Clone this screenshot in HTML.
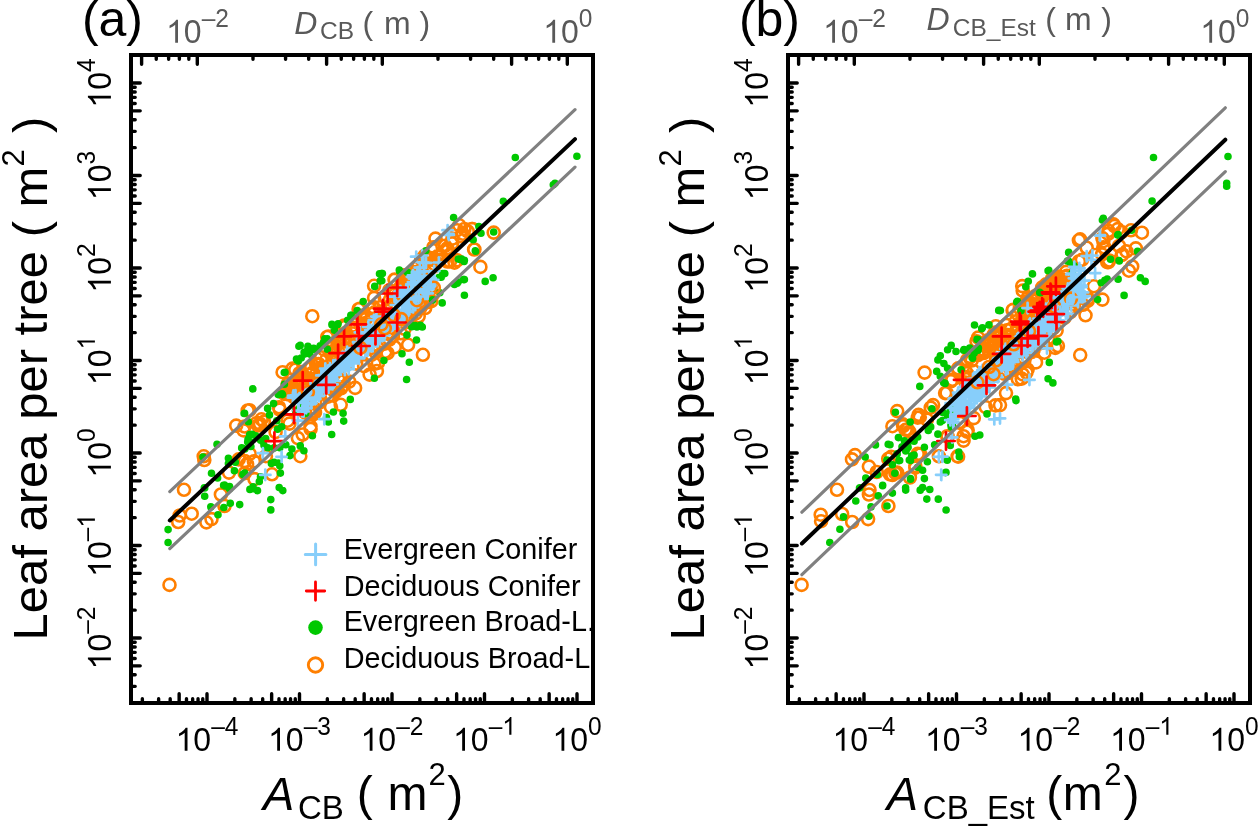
<!DOCTYPE html>
<html><head><meta charset="utf-8"><style>
html,body{margin:0;padding:0;background:#fff;width:1258px;height:829px;overflow:hidden}
svg{display:block;will-change:transform}
text{font-family:"Liberation Sans", sans-serif}
svg{-webkit-font-smoothing:antialiased}
.t{will-change:transform}
</style></head><body>
<svg width="1258" height="829" viewBox="0 0 1258 829">
<rect width="1258" height="829" fill="#fff"/>
<defs><clipPath id="clipA"><rect x="133" y="57" width="458" height="644"/></clipPath><clipPath id="clipB"><rect x="790" y="57" width="458" height="644"/></clipPath></defs>
<text x="81.90" y="36.00" font-size="50" fill="#000" text-anchor="start">(a)</text>
<path transform="translate(166.08,42.70) scale(0.01562,-0.01562)" d="M763 0L583 0L583 1147Q518 1085 412.5 1023Q307 961 223 930L223 1104Q374 1175 487 1276Q600 1377 647 1472L763 1472Z" fill="#595959"/>
<text transform="translate(183.87,42.70) scale(1,1.04)" font-size="32" fill="#595959" text-anchor="start">0</text>
<text transform="translate(201.67,26.70) scale(1,1.04)" font-size="24.5" fill="#595959" text-anchor="start">–2</text>
<path transform="translate(543.19,42.70) scale(0.01562,-0.01562)" d="M763 0L583 0L583 1147Q518 1085 412.5 1023Q307 961 223 930L223 1104Q374 1175 487 1276Q600 1377 647 1472L763 1472Z" fill="#595959"/>
<text transform="translate(560.99,42.70) scale(1,1.04)" font-size="32" fill="#595959" text-anchor="start">0</text>
<text transform="translate(578.78,26.70) scale(1,1.04)" font-size="24.5" fill="#595959" text-anchor="start">0</text>
<text x="294.32" y="33.70" font-size="32" fill="#595959" font-style="italic" text-anchor="start">D</text>
<text x="320.06" y="39.40" font-size="24.5" fill="#595959" text-anchor="start">CB</text>
<text x="362.62" y="33.70" font-size="32" fill="#595959" text-anchor="start">(</text>
<text x="384.07" y="33.70" font-size="32" fill="#595959" text-anchor="start">m</text>
<text x="419.53" y="33.70" font-size="32" fill="#595959" text-anchor="start">)</text>
<g transform="translate(110.90,669.42) rotate(-90)">
<path transform="translate(0.00,0.00) scale(0.01562,-0.01562)" d="M763 0L583 0L583 1147Q518 1085 412.5 1023Q307 961 223 930L223 1104Q374 1175 487 1276Q600 1377 647 1472L763 1472Z" fill="#000"/>
<text transform="translate(17.80,0.00) scale(1,1.04)" font-size="32" fill="#000" text-anchor="start">0</text>
<text transform="translate(35.59,-16.00) scale(1,1.04)" font-size="24.5" fill="#000" text-anchor="start">–2</text>
</g>
<g transform="translate(110.90,576.92) rotate(-90)">
<path transform="translate(0.00,0.00) scale(0.01562,-0.01562)" d="M763 0L583 0L583 1147Q518 1085 412.5 1023Q307 961 223 930L223 1104Q374 1175 487 1276Q600 1377 647 1472L763 1472Z" fill="#000"/>
<text transform="translate(17.80,0.00) scale(1,1.04)" font-size="32" fill="#000" text-anchor="start">0</text>
<text transform="translate(35.59,-16.00) scale(1,1.04)" font-size="24.5" fill="#000" text-anchor="start">–</text>
<path transform="translate(49.22,-16.00) scale(0.01196,-0.01196)" d="M763 0L583 0L583 1147Q518 1085 412.5 1023Q307 961 223 930L223 1104Q374 1175 487 1276Q600 1377 647 1472L763 1472Z" fill="#000"/>
</g>
<g transform="translate(110.90,477.61) rotate(-90)">
<path transform="translate(0.00,0.00) scale(0.01562,-0.01562)" d="M763 0L583 0L583 1147Q518 1085 412.5 1023Q307 961 223 930L223 1104Q374 1175 487 1276Q600 1377 647 1472L763 1472Z" fill="#000"/>
<text transform="translate(17.80,0.00) scale(1,1.04)" font-size="32" fill="#000" text-anchor="start">0</text>
<text transform="translate(35.59,-16.00) scale(1,1.04)" font-size="24.5" fill="#000" text-anchor="start">0</text>
</g>
<g transform="translate(110.90,385.11) rotate(-90)">
<path transform="translate(0.00,0.00) scale(0.01562,-0.01562)" d="M763 0L583 0L583 1147Q518 1085 412.5 1023Q307 961 223 930L223 1104Q374 1175 487 1276Q600 1377 647 1472L763 1472Z" fill="#000"/>
<text transform="translate(17.80,0.00) scale(1,1.04)" font-size="32" fill="#000" text-anchor="start">0</text>
<path transform="translate(35.59,-16.00) scale(0.01196,-0.01196)" d="M763 0L583 0L583 1147Q518 1085 412.5 1023Q307 961 223 930L223 1104Q374 1175 487 1276Q600 1377 647 1472L763 1472Z" fill="#000"/>
</g>
<g transform="translate(110.90,292.61) rotate(-90)">
<path transform="translate(0.00,0.00) scale(0.01562,-0.01562)" d="M763 0L583 0L583 1147Q518 1085 412.5 1023Q307 961 223 930L223 1104Q374 1175 487 1276Q600 1377 647 1472L763 1472Z" fill="#000"/>
<text transform="translate(17.80,0.00) scale(1,1.04)" font-size="32" fill="#000" text-anchor="start">0</text>
<text transform="translate(35.59,-16.00) scale(1,1.04)" font-size="24.5" fill="#000" text-anchor="start">2</text>
</g>
<g transform="translate(110.90,200.11) rotate(-90)">
<path transform="translate(0.00,0.00) scale(0.01562,-0.01562)" d="M763 0L583 0L583 1147Q518 1085 412.5 1023Q307 961 223 930L223 1104Q374 1175 487 1276Q600 1377 647 1472L763 1472Z" fill="#000"/>
<text transform="translate(17.80,0.00) scale(1,1.04)" font-size="32" fill="#000" text-anchor="start">0</text>
<text transform="translate(35.59,-16.00) scale(1,1.04)" font-size="24.5" fill="#000" text-anchor="start">3</text>
</g>
<g transform="translate(110.90,107.61) rotate(-90)">
<path transform="translate(0.00,0.00) scale(0.01562,-0.01562)" d="M763 0L583 0L583 1147Q518 1085 412.5 1023Q307 961 223 930L223 1104Q374 1175 487 1276Q600 1377 647 1472L763 1472Z" fill="#000"/>
<text transform="translate(17.80,0.00) scale(1,1.04)" font-size="32" fill="#000" text-anchor="start">0</text>
<text transform="translate(35.59,-16.00) scale(1,1.04)" font-size="24.5" fill="#000" text-anchor="start">4</text>
</g>
<path transform="translate(175.58,750.70) scale(0.01562,-0.01562)" d="M763 0L583 0L583 1147Q518 1085 412.5 1023Q307 961 223 930L223 1104Q374 1175 487 1276Q600 1377 647 1472L763 1472Z" fill="#000"/>
<text transform="translate(193.37,750.70) scale(1,1.04)" font-size="32" fill="#000" text-anchor="start">0</text>
<text transform="translate(211.17,734.70) scale(1,1.04)" font-size="24.5" fill="#000" text-anchor="start">–4</text>
<path transform="translate(268.08,750.70) scale(0.01562,-0.01562)" d="M763 0L583 0L583 1147Q518 1085 412.5 1023Q307 961 223 930L223 1104Q374 1175 487 1276Q600 1377 647 1472L763 1472Z" fill="#000"/>
<text transform="translate(285.87,750.70) scale(1,1.04)" font-size="32" fill="#000" text-anchor="start">0</text>
<text transform="translate(303.67,734.70) scale(1,1.04)" font-size="24.5" fill="#000" text-anchor="start">–3</text>
<path transform="translate(360.58,750.70) scale(0.01562,-0.01562)" d="M763 0L583 0L583 1147Q518 1085 412.5 1023Q307 961 223 930L223 1104Q374 1175 487 1276Q600 1377 647 1472L763 1472Z" fill="#000"/>
<text transform="translate(378.37,750.70) scale(1,1.04)" font-size="32" fill="#000" text-anchor="start">0</text>
<text transform="translate(396.17,734.70) scale(1,1.04)" font-size="24.5" fill="#000" text-anchor="start">–2</text>
<path transform="translate(453.08,750.70) scale(0.01562,-0.01562)" d="M763 0L583 0L583 1147Q518 1085 412.5 1023Q307 961 223 930L223 1104Q374 1175 487 1276Q600 1377 647 1472L763 1472Z" fill="#000"/>
<text transform="translate(470.87,750.70) scale(1,1.04)" font-size="32" fill="#000" text-anchor="start">0</text>
<text transform="translate(488.67,734.70) scale(1,1.04)" font-size="24.5" fill="#000" text-anchor="start">–</text>
<path transform="translate(502.30,734.70) scale(0.01196,-0.01196)" d="M763 0L583 0L583 1147Q518 1085 412.5 1023Q307 961 223 930L223 1104Q374 1175 487 1276Q600 1377 647 1472L763 1472Z" fill="#000"/>
<path transform="translate(552.39,750.70) scale(0.01562,-0.01562)" d="M763 0L583 0L583 1147Q518 1085 412.5 1023Q307 961 223 930L223 1104Q374 1175 487 1276Q600 1377 647 1472L763 1472Z" fill="#000"/>
<text transform="translate(570.19,750.70) scale(1,1.04)" font-size="32" fill="#000" text-anchor="start">0</text>
<text transform="translate(587.98,734.70) scale(1,1.04)" font-size="24.5" fill="#000" text-anchor="start">0</text>
<g transform="translate(47.30,640.50) rotate(-90)">
<text x="0.00" y="0.00" font-size="49" fill="#000" text-anchor="start">Leaf area per tree ( m</text>
<text x="473.90" y="-23.80" font-size="31" fill="#000" text-anchor="start">2</text>
</g>
<g transform="translate(47.30,132.99) rotate(-90)">
<text x="0.00" y="0.00" font-size="49" fill="#000" text-anchor="start">)</text>
</g>
<text x="262.92" y="810.00" font-size="47" fill="#000" font-style="italic" text-anchor="start">A</text>
<text x="298.02" y="818.60" font-size="33" fill="#000" text-anchor="start">CB</text>
<text x="356.72" y="810.00" font-size="48" fill="#000" text-anchor="start">(</text>
<text x="387.61" y="810.00" font-size="48" fill="#000" text-anchor="start">m</text>
<text x="428.44" y="784.70" font-size="31" fill="#000" text-anchor="start">2</text>
<text x="447.19" y="810.00" font-size="48" fill="#000" text-anchor="start">)</text>
<text x="738.90" y="36.00" font-size="50" fill="#000" text-anchor="start">(b)</text>
<path transform="translate(823.08,42.70) scale(0.01562,-0.01562)" d="M763 0L583 0L583 1147Q518 1085 412.5 1023Q307 961 223 930L223 1104Q374 1175 487 1276Q600 1377 647 1472L763 1472Z" fill="#595959"/>
<text transform="translate(840.87,42.70) scale(1,1.04)" font-size="32" fill="#595959" text-anchor="start">0</text>
<text transform="translate(858.67,26.70) scale(1,1.04)" font-size="24.5" fill="#595959" text-anchor="start">–2</text>
<path transform="translate(1200.19,42.70) scale(0.01562,-0.01562)" d="M763 0L583 0L583 1147Q518 1085 412.5 1023Q307 961 223 930L223 1104Q374 1175 487 1276Q600 1377 647 1472L763 1472Z" fill="#595959"/>
<text transform="translate(1217.99,42.70) scale(1,1.04)" font-size="32" fill="#595959" text-anchor="start">0</text>
<text transform="translate(1235.78,26.70) scale(1,1.04)" font-size="24.5" fill="#595959" text-anchor="start">0</text>
<text x="926.52" y="29.60" font-size="32" fill="#595959" font-style="italic" text-anchor="start">D</text>
<text x="952.76" y="35.70" font-size="24.5" fill="#595959" text-anchor="start">CB_Est</text>
<text x="1045.22" y="29.70" font-size="32" fill="#595959" text-anchor="start">(</text>
<text x="1064.88" y="29.70" font-size="32" fill="#595959" text-anchor="start">m</text>
<text x="1101.33" y="29.70" font-size="32" fill="#595959" text-anchor="start">)</text>
<g transform="translate(767.90,669.42) rotate(-90)">
<path transform="translate(0.00,0.00) scale(0.01562,-0.01562)" d="M763 0L583 0L583 1147Q518 1085 412.5 1023Q307 961 223 930L223 1104Q374 1175 487 1276Q600 1377 647 1472L763 1472Z" fill="#000"/>
<text transform="translate(17.80,0.00) scale(1,1.04)" font-size="32" fill="#000" text-anchor="start">0</text>
<text transform="translate(35.59,-16.00) scale(1,1.04)" font-size="24.5" fill="#000" text-anchor="start">–2</text>
</g>
<g transform="translate(767.90,576.92) rotate(-90)">
<path transform="translate(0.00,0.00) scale(0.01562,-0.01562)" d="M763 0L583 0L583 1147Q518 1085 412.5 1023Q307 961 223 930L223 1104Q374 1175 487 1276Q600 1377 647 1472L763 1472Z" fill="#000"/>
<text transform="translate(17.80,0.00) scale(1,1.04)" font-size="32" fill="#000" text-anchor="start">0</text>
<text transform="translate(35.59,-16.00) scale(1,1.04)" font-size="24.5" fill="#000" text-anchor="start">–</text>
<path transform="translate(49.22,-16.00) scale(0.01196,-0.01196)" d="M763 0L583 0L583 1147Q518 1085 412.5 1023Q307 961 223 930L223 1104Q374 1175 487 1276Q600 1377 647 1472L763 1472Z" fill="#000"/>
</g>
<g transform="translate(767.90,477.61) rotate(-90)">
<path transform="translate(0.00,0.00) scale(0.01562,-0.01562)" d="M763 0L583 0L583 1147Q518 1085 412.5 1023Q307 961 223 930L223 1104Q374 1175 487 1276Q600 1377 647 1472L763 1472Z" fill="#000"/>
<text transform="translate(17.80,0.00) scale(1,1.04)" font-size="32" fill="#000" text-anchor="start">0</text>
<text transform="translate(35.59,-16.00) scale(1,1.04)" font-size="24.5" fill="#000" text-anchor="start">0</text>
</g>
<g transform="translate(767.90,385.11) rotate(-90)">
<path transform="translate(0.00,0.00) scale(0.01562,-0.01562)" d="M763 0L583 0L583 1147Q518 1085 412.5 1023Q307 961 223 930L223 1104Q374 1175 487 1276Q600 1377 647 1472L763 1472Z" fill="#000"/>
<text transform="translate(17.80,0.00) scale(1,1.04)" font-size="32" fill="#000" text-anchor="start">0</text>
<path transform="translate(35.59,-16.00) scale(0.01196,-0.01196)" d="M763 0L583 0L583 1147Q518 1085 412.5 1023Q307 961 223 930L223 1104Q374 1175 487 1276Q600 1377 647 1472L763 1472Z" fill="#000"/>
</g>
<g transform="translate(767.90,292.61) rotate(-90)">
<path transform="translate(0.00,0.00) scale(0.01562,-0.01562)" d="M763 0L583 0L583 1147Q518 1085 412.5 1023Q307 961 223 930L223 1104Q374 1175 487 1276Q600 1377 647 1472L763 1472Z" fill="#000"/>
<text transform="translate(17.80,0.00) scale(1,1.04)" font-size="32" fill="#000" text-anchor="start">0</text>
<text transform="translate(35.59,-16.00) scale(1,1.04)" font-size="24.5" fill="#000" text-anchor="start">2</text>
</g>
<g transform="translate(767.90,200.11) rotate(-90)">
<path transform="translate(0.00,0.00) scale(0.01562,-0.01562)" d="M763 0L583 0L583 1147Q518 1085 412.5 1023Q307 961 223 930L223 1104Q374 1175 487 1276Q600 1377 647 1472L763 1472Z" fill="#000"/>
<text transform="translate(17.80,0.00) scale(1,1.04)" font-size="32" fill="#000" text-anchor="start">0</text>
<text transform="translate(35.59,-16.00) scale(1,1.04)" font-size="24.5" fill="#000" text-anchor="start">3</text>
</g>
<g transform="translate(767.90,107.61) rotate(-90)">
<path transform="translate(0.00,0.00) scale(0.01562,-0.01562)" d="M763 0L583 0L583 1147Q518 1085 412.5 1023Q307 961 223 930L223 1104Q374 1175 487 1276Q600 1377 647 1472L763 1472Z" fill="#000"/>
<text transform="translate(17.80,0.00) scale(1,1.04)" font-size="32" fill="#000" text-anchor="start">0</text>
<text transform="translate(35.59,-16.00) scale(1,1.04)" font-size="24.5" fill="#000" text-anchor="start">4</text>
</g>
<path transform="translate(832.58,750.70) scale(0.01562,-0.01562)" d="M763 0L583 0L583 1147Q518 1085 412.5 1023Q307 961 223 930L223 1104Q374 1175 487 1276Q600 1377 647 1472L763 1472Z" fill="#000"/>
<text transform="translate(850.37,750.70) scale(1,1.04)" font-size="32" fill="#000" text-anchor="start">0</text>
<text transform="translate(868.17,734.70) scale(1,1.04)" font-size="24.5" fill="#000" text-anchor="start">–4</text>
<path transform="translate(925.08,750.70) scale(0.01562,-0.01562)" d="M763 0L583 0L583 1147Q518 1085 412.5 1023Q307 961 223 930L223 1104Q374 1175 487 1276Q600 1377 647 1472L763 1472Z" fill="#000"/>
<text transform="translate(942.87,750.70) scale(1,1.04)" font-size="32" fill="#000" text-anchor="start">0</text>
<text transform="translate(960.67,734.70) scale(1,1.04)" font-size="24.5" fill="#000" text-anchor="start">–3</text>
<path transform="translate(1017.58,750.70) scale(0.01562,-0.01562)" d="M763 0L583 0L583 1147Q518 1085 412.5 1023Q307 961 223 930L223 1104Q374 1175 487 1276Q600 1377 647 1472L763 1472Z" fill="#000"/>
<text transform="translate(1035.37,750.70) scale(1,1.04)" font-size="32" fill="#000" text-anchor="start">0</text>
<text transform="translate(1053.17,734.70) scale(1,1.04)" font-size="24.5" fill="#000" text-anchor="start">–2</text>
<path transform="translate(1110.08,750.70) scale(0.01562,-0.01562)" d="M763 0L583 0L583 1147Q518 1085 412.5 1023Q307 961 223 930L223 1104Q374 1175 487 1276Q600 1377 647 1472L763 1472Z" fill="#000"/>
<text transform="translate(1127.87,750.70) scale(1,1.04)" font-size="32" fill="#000" text-anchor="start">0</text>
<text transform="translate(1145.67,734.70) scale(1,1.04)" font-size="24.5" fill="#000" text-anchor="start">–</text>
<path transform="translate(1159.30,734.70) scale(0.01196,-0.01196)" d="M763 0L583 0L583 1147Q518 1085 412.5 1023Q307 961 223 930L223 1104Q374 1175 487 1276Q600 1377 647 1472L763 1472Z" fill="#000"/>
<path transform="translate(1209.39,750.70) scale(0.01562,-0.01562)" d="M763 0L583 0L583 1147Q518 1085 412.5 1023Q307 961 223 930L223 1104Q374 1175 487 1276Q600 1377 647 1472L763 1472Z" fill="#000"/>
<text transform="translate(1227.19,750.70) scale(1,1.04)" font-size="32" fill="#000" text-anchor="start">0</text>
<text transform="translate(1244.98,734.70) scale(1,1.04)" font-size="24.5" fill="#000" text-anchor="start">0</text>
<g transform="translate(704.30,640.50) rotate(-90)">
<text x="0.00" y="0.00" font-size="49" fill="#000" text-anchor="start">Leaf area per tree ( m</text>
<text x="473.90" y="-23.80" font-size="31" fill="#000" text-anchor="start">2</text>
</g>
<g transform="translate(704.30,132.99) rotate(-90)">
<text x="0.00" y="0.00" font-size="49" fill="#000" text-anchor="start">)</text>
</g>
<text x="886.82" y="810.00" font-size="47" fill="#000" font-style="italic" text-anchor="start">A</text>
<text x="922.82" y="818.60" font-size="33" fill="#000" text-anchor="start">CB_Est</text>
<text x="1046.22" y="810.00" font-size="48" fill="#000" text-anchor="start">(</text>
<text x="1062.71" y="810.00" font-size="48" fill="#000" text-anchor="start">m</text>
<text x="1104.34" y="784.70" font-size="31" fill="#000" text-anchor="start">2</text>
<text x="1123.59" y="810.00" font-size="48" fill="#000" text-anchor="start">)</text>
<g clip-path="url(#clipA)">
<path d="M299.8 385.4a6 6 0 1 0 12 0a6 6 0 1 0 -12 0M397.4 280.8a6 6 0 1 0 12 0a6 6 0 1 0 -12 0M355.8 324.1a6 6 0 1 0 12 0a6 6 0 1 0 -12 0M380.0 308.8a6 6 0 1 0 12 0a6 6 0 1 0 -12 0M293.5 373.2a6 6 0 1 0 12 0a6 6 0 1 0 -12 0M408.5 274.2a6 6 0 1 0 12 0a6 6 0 1 0 -12 0M397.2 275.4a6 6 0 1 0 12 0a6 6 0 1 0 -12 0M348.0 337.3a6 6 0 1 0 12 0a6 6 0 1 0 -12 0M314.5 373.8a6 6 0 1 0 12 0a6 6 0 1 0 -12 0M418.7 255.8a6 6 0 1 0 12 0a6 6 0 1 0 -12 0M282.9 394.5a6 6 0 1 0 12 0a6 6 0 1 0 -12 0M424.6 258.0a6 6 0 1 0 12 0a6 6 0 1 0 -12 0M312.6 364.0a6 6 0 1 0 12 0a6 6 0 1 0 -12 0M283.5 386.9a6 6 0 1 0 12 0a6 6 0 1 0 -12 0M346.9 333.5a6 6 0 1 0 12 0a6 6 0 1 0 -12 0M315.1 357.4a6 6 0 1 0 12 0a6 6 0 1 0 -12 0M312.9 364.6a6 6 0 1 0 12 0a6 6 0 1 0 -12 0M323.9 344.6a6 6 0 1 0 12 0a6 6 0 1 0 -12 0M408.8 276.7a6 6 0 1 0 12 0a6 6 0 1 0 -12 0M378.6 296.9a6 6 0 1 0 12 0a6 6 0 1 0 -12 0M432.8 260.8a6 6 0 1 0 12 0a6 6 0 1 0 -12 0M297.7 376.0a6 6 0 1 0 12 0a6 6 0 1 0 -12 0M390.8 297.0a6 6 0 1 0 12 0a6 6 0 1 0 -12 0M424.1 259.3a6 6 0 1 0 12 0a6 6 0 1 0 -12 0M407.7 280.3a6 6 0 1 0 12 0a6 6 0 1 0 -12 0M326.0 355.1a6 6 0 1 0 12 0a6 6 0 1 0 -12 0M415.8 276.5a6 6 0 1 0 12 0a6 6 0 1 0 -12 0M357.3 325.7a6 6 0 1 0 12 0a6 6 0 1 0 -12 0M284.4 386.6a6 6 0 1 0 12 0a6 6 0 1 0 -12 0M402.6 279.4a6 6 0 1 0 12 0a6 6 0 1 0 -12 0M305.8 373.2a6 6 0 1 0 12 0a6 6 0 1 0 -12 0M388.0 298.8a6 6 0 1 0 12 0a6 6 0 1 0 -12 0M337.1 341.4a6 6 0 1 0 12 0a6 6 0 1 0 -12 0M357.8 329.4a6 6 0 1 0 12 0a6 6 0 1 0 -12 0M359.7 319.1a6 6 0 1 0 12 0a6 6 0 1 0 -12 0M354.9 315.7a6 6 0 1 0 12 0a6 6 0 1 0 -12 0M285.7 395.4a6 6 0 1 0 12 0a6 6 0 1 0 -12 0M431.4 256.3a6 6 0 1 0 12 0a6 6 0 1 0 -12 0M340.0 332.8a6 6 0 1 0 12 0a6 6 0 1 0 -12 0M356.8 334.8a6 6 0 1 0 12 0a6 6 0 1 0 -12 0M398.4 286.1a6 6 0 1 0 12 0a6 6 0 1 0 -12 0M412.3 266.2a6 6 0 1 0 12 0a6 6 0 1 0 -12 0M358.6 332.5a6 6 0 1 0 12 0a6 6 0 1 0 -12 0M368.6 312.3a6 6 0 1 0 12 0a6 6 0 1 0 -12 0M320.7 359.1a6 6 0 1 0 12 0a6 6 0 1 0 -12 0M427.4 247.2a6 6 0 1 0 12 0a6 6 0 1 0 -12 0M400.5 290.3a6 6 0 1 0 12 0a6 6 0 1 0 -12 0M416.4 273.6a6 6 0 1 0 12 0a6 6 0 1 0 -12 0M404.4 280.0a6 6 0 1 0 12 0a6 6 0 1 0 -12 0M366.0 314.0a6 6 0 1 0 12 0a6 6 0 1 0 -12 0M287.7 397.2a6 6 0 1 0 12 0a6 6 0 1 0 -12 0M367.3 307.7a6 6 0 1 0 12 0a6 6 0 1 0 -12 0M357.2 323.5a6 6 0 1 0 12 0a6 6 0 1 0 -12 0M334.3 342.0a6 6 0 1 0 12 0a6 6 0 1 0 -12 0M362.5 321.7a6 6 0 1 0 12 0a6 6 0 1 0 -12 0M373.9 307.3a6 6 0 1 0 12 0a6 6 0 1 0 -12 0M283.3 387.2a6 6 0 1 0 12 0a6 6 0 1 0 -12 0M306.5 373.3a6 6 0 1 0 12 0a6 6 0 1 0 -12 0M412.5 278.6a6 6 0 1 0 12 0a6 6 0 1 0 -12 0M402.6 288.3a6 6 0 1 0 12 0a6 6 0 1 0 -12 0M318.6 367.6a6 6 0 1 0 12 0a6 6 0 1 0 -12 0M383.3 290.2a6 6 0 1 0 12 0a6 6 0 1 0 -12 0M281.6 384.2a6 6 0 1 0 12 0a6 6 0 1 0 -12 0M396.1 281.8a6 6 0 1 0 12 0a6 6 0 1 0 -12 0M296.0 384.1a6 6 0 1 0 12 0a6 6 0 1 0 -12 0M332.4 337.7a6 6 0 1 0 12 0a6 6 0 1 0 -12 0M303.7 374.6a6 6 0 1 0 12 0a6 6 0 1 0 -12 0M305.1 367.8a6 6 0 1 0 12 0a6 6 0 1 0 -12 0M389.3 292.8a6 6 0 1 0 12 0a6 6 0 1 0 -12 0M328.9 349.8a6 6 0 1 0 12 0a6 6 0 1 0 -12 0M282.7 391.3a6 6 0 1 0 12 0a6 6 0 1 0 -12 0M344.2 329.2a6 6 0 1 0 12 0a6 6 0 1 0 -12 0M295.9 390.2a6 6 0 1 0 12 0a6 6 0 1 0 -12 0M358.1 316.7a6 6 0 1 0 12 0a6 6 0 1 0 -12 0M372.9 316.1a6 6 0 1 0 12 0a6 6 0 1 0 -12 0M282.2 383.6a6 6 0 1 0 12 0a6 6 0 1 0 -12 0M301.7 380.8a6 6 0 1 0 12 0a6 6 0 1 0 -12 0M303.8 378.5a6 6 0 1 0 12 0a6 6 0 1 0 -12 0M384.1 299.6a6 6 0 1 0 12 0a6 6 0 1 0 -12 0M313.2 375.6a6 6 0 1 0 12 0a6 6 0 1 0 -12 0M402.7 281.6a6 6 0 1 0 12 0a6 6 0 1 0 -12 0M313.6 368.1a6 6 0 1 0 12 0a6 6 0 1 0 -12 0M340.2 341.5a6 6 0 1 0 12 0a6 6 0 1 0 -12 0M328.8 353.4a6 6 0 1 0 12 0a6 6 0 1 0 -12 0M288.1 384.3a6 6 0 1 0 12 0a6 6 0 1 0 -12 0M429.0 264.7a6 6 0 1 0 12 0a6 6 0 1 0 -12 0M326.5 360.6a6 6 0 1 0 12 0a6 6 0 1 0 -12 0M327.1 361.8a6 6 0 1 0 12 0a6 6 0 1 0 -12 0M394.3 287.2a6 6 0 1 0 12 0a6 6 0 1 0 -12 0M318.1 349.7a6 6 0 1 0 12 0a6 6 0 1 0 -12 0M415.2 259.3a6 6 0 1 0 12 0a6 6 0 1 0 -12 0M406.0 288.2a6 6 0 1 0 12 0a6 6 0 1 0 -12 0M367.4 307.1a6 6 0 1 0 12 0a6 6 0 1 0 -12 0M413.5 281.5a6 6 0 1 0 12 0a6 6 0 1 0 -12 0M388.1 295.0a6 6 0 1 0 12 0a6 6 0 1 0 -12 0M337.6 338.9a6 6 0 1 0 12 0a6 6 0 1 0 -12 0M310.9 371.2a6 6 0 1 0 12 0a6 6 0 1 0 -12 0M346.1 327.6a6 6 0 1 0 12 0a6 6 0 1 0 -12 0M295.2 385.7a6 6 0 1 0 12 0a6 6 0 1 0 -12 0M324.9 354.2a6 6 0 1 0 12 0a6 6 0 1 0 -12 0M329.4 358.1a6 6 0 1 0 12 0a6 6 0 1 0 -12 0M418.5 255.8a6 6 0 1 0 12 0a6 6 0 1 0 -12 0M310.1 364.3a6 6 0 1 0 12 0a6 6 0 1 0 -12 0M432.0 259.9a6 6 0 1 0 12 0a6 6 0 1 0 -12 0M331.6 341.6a6 6 0 1 0 12 0a6 6 0 1 0 -12 0M383.5 306.6a6 6 0 1 0 12 0a6 6 0 1 0 -12 0M423.5 258.2a6 6 0 1 0 12 0a6 6 0 1 0 -12 0M415.8 273.0a6 6 0 1 0 12 0a6 6 0 1 0 -12 0M354.1 337.5a6 6 0 1 0 12 0a6 6 0 1 0 -12 0M315.4 368.1a6 6 0 1 0 12 0a6 6 0 1 0 -12 0M292.1 377.7a6 6 0 1 0 12 0a6 6 0 1 0 -12 0M420.2 258.4a6 6 0 1 0 12 0a6 6 0 1 0 -12 0M396.7 289.0a6 6 0 1 0 12 0a6 6 0 1 0 -12 0M409.4 272.0a6 6 0 1 0 12 0a6 6 0 1 0 -12 0M331.7 343.2a6 6 0 1 0 12 0a6 6 0 1 0 -12 0M413.5 273.4a6 6 0 1 0 12 0a6 6 0 1 0 -12 0M426.9 267.0a6 6 0 1 0 12 0a6 6 0 1 0 -12 0M300.0 378.7a6 6 0 1 0 12 0a6 6 0 1 0 -12 0M295.2 372.0a6 6 0 1 0 12 0a6 6 0 1 0 -12 0M290.3 394.7a6 6 0 1 0 12 0a6 6 0 1 0 -12 0M401.2 289.8a6 6 0 1 0 12 0a6 6 0 1 0 -12 0M331.8 350.2a6 6 0 1 0 12 0a6 6 0 1 0 -12 0M400.2 280.8a6 6 0 1 0 12 0a6 6 0 1 0 -12 0M367.5 308.2a6 6 0 1 0 12 0a6 6 0 1 0 -12 0M291.7 380.2a6 6 0 1 0 12 0a6 6 0 1 0 -12 0M409.8 313.4a6 6 0 1 0 12 0a6 6 0 1 0 -12 0M414.3 307.7a6 6 0 1 0 12 0a6 6 0 1 0 -12 0M330.0 391.4a6 6 0 1 0 12 0a6 6 0 1 0 -12 0M401.6 313.4a6 6 0 1 0 12 0a6 6 0 1 0 -12 0M381.2 333.7a6 6 0 1 0 12 0a6 6 0 1 0 -12 0M309.0 412.5a6 6 0 1 0 12 0a6 6 0 1 0 -12 0M299.2 412.7a6 6 0 1 0 12 0a6 6 0 1 0 -12 0M422.5 299.5a6 6 0 1 0 12 0a6 6 0 1 0 -12 0M309.0 402.4a6 6 0 1 0 12 0a6 6 0 1 0 -12 0M325.4 395.1a6 6 0 1 0 12 0a6 6 0 1 0 -12 0M307.4 414.4a6 6 0 1 0 12 0a6 6 0 1 0 -12 0M343.2 381.6a6 6 0 1 0 12 0a6 6 0 1 0 -12 0M412.2 307.4a6 6 0 1 0 12 0a6 6 0 1 0 -12 0M326.9 389.9a6 6 0 1 0 12 0a6 6 0 1 0 -12 0M307.0 411.1a6 6 0 1 0 12 0a6 6 0 1 0 -12 0M299.2 409.5a6 6 0 1 0 12 0a6 6 0 1 0 -12 0M421.7 298.4a6 6 0 1 0 12 0a6 6 0 1 0 -12 0M371.6 347.7a6 6 0 1 0 12 0a6 6 0 1 0 -12 0M334.7 376.8a6 6 0 1 0 12 0a6 6 0 1 0 -12 0M412.7 316.3a6 6 0 1 0 12 0a6 6 0 1 0 -12 0M420.1 297.4a6 6 0 1 0 12 0a6 6 0 1 0 -12 0M322.0 396.6a6 6 0 1 0 12 0a6 6 0 1 0 -12 0M421.4 302.2a6 6 0 1 0 12 0a6 6 0 1 0 -12 0M383.5 339.5a6 6 0 1 0 12 0a6 6 0 1 0 -12 0M327.7 390.2a6 6 0 1 0 12 0a6 6 0 1 0 -12 0M334.0 380.1a6 6 0 1 0 12 0a6 6 0 1 0 -12 0M304.6 408.2a6 6 0 1 0 12 0a6 6 0 1 0 -12 0M421.8 300.5a6 6 0 1 0 12 0a6 6 0 1 0 -12 0M378.8 343.6a6 6 0 1 0 12 0a6 6 0 1 0 -12 0M416.3 304.9a6 6 0 1 0 12 0a6 6 0 1 0 -12 0M333.9 381.3a6 6 0 1 0 12 0a6 6 0 1 0 -12 0M335.2 387.4a6 6 0 1 0 12 0a6 6 0 1 0 -12 0M410.2 309.4a6 6 0 1 0 12 0a6 6 0 1 0 -12 0M337.5 381.0a6 6 0 1 0 12 0a6 6 0 1 0 -12 0M369.3 351.9a6 6 0 1 0 12 0a6 6 0 1 0 -12 0M325.9 384.6a6 6 0 1 0 12 0a6 6 0 1 0 -12 0M325.7 385.5a6 6 0 1 0 12 0a6 6 0 1 0 -12 0M365.7 347.9a6 6 0 1 0 12 0a6 6 0 1 0 -12 0M303.8 413.9a6 6 0 1 0 12 0a6 6 0 1 0 -12 0M331.8 389.8a6 6 0 1 0 12 0a6 6 0 1 0 -12 0M358.1 366.1a6 6 0 1 0 12 0a6 6 0 1 0 -12 0M314.0 402.4a6 6 0 1 0 12 0a6 6 0 1 0 -12 0M397.3 318.3a6 6 0 1 0 12 0a6 6 0 1 0 -12 0M417.4 300.8a6 6 0 1 0 12 0a6 6 0 1 0 -12 0M394.9 333.3a6 6 0 1 0 12 0a6 6 0 1 0 -12 0M400.8 318.4a6 6 0 1 0 12 0a6 6 0 1 0 -12 0M307.9 408.3a6 6 0 1 0 12 0a6 6 0 1 0 -12 0M413.5 306.1a6 6 0 1 0 12 0a6 6 0 1 0 -12 0M410.2 307.1a6 6 0 1 0 12 0a6 6 0 1 0 -12 0M412.4 303.5a6 6 0 1 0 12 0a6 6 0 1 0 -12 0M335.1 388.3a6 6 0 1 0 12 0a6 6 0 1 0 -12 0M398.5 328.8a6 6 0 1 0 12 0a6 6 0 1 0 -12 0M403.3 322.1a6 6 0 1 0 12 0a6 6 0 1 0 -12 0M383.6 332.5a6 6 0 1 0 12 0a6 6 0 1 0 -12 0M350.2 363.6a6 6 0 1 0 12 0a6 6 0 1 0 -12 0M386.9 336.3a6 6 0 1 0 12 0a6 6 0 1 0 -12 0M326.8 384.3a6 6 0 1 0 12 0a6 6 0 1 0 -12 0M419.2 308.0a6 6 0 1 0 12 0a6 6 0 1 0 -12 0M365.4 354.8a6 6 0 1 0 12 0a6 6 0 1 0 -12 0M404.7 316.7a6 6 0 1 0 12 0a6 6 0 1 0 -12 0M178.0 489.8a6 6 0 1 0 12 0a6 6 0 1 0 -12 0M173.7 515.5a6 6 0 1 0 12 0a6 6 0 1 0 -12 0M172.2 522.0a6 6 0 1 0 12 0a6 6 0 1 0 -12 0M185.7 513.7a6 6 0 1 0 12 0a6 6 0 1 0 -12 0M200.4 522.4a6 6 0 1 0 12 0a6 6 0 1 0 -12 0M205.5 519.1a6 6 0 1 0 12 0a6 6 0 1 0 -12 0M214.9 494.5a6 6 0 1 0 12 0a6 6 0 1 0 -12 0M218.5 506.0a6 6 0 1 0 12 0a6 6 0 1 0 -12 0M163.5 584.9a6 6 0 1 0 12 0a6 6 0 1 0 -12 0M197.7 456.3a6 6 0 1 0 12 0a6 6 0 1 0 -12 0M198.3 460.0a6 6 0 1 0 12 0a6 6 0 1 0 -12 0M230.2 425.6a6 6 0 1 0 12 0a6 6 0 1 0 -12 0M237.5 430.4a6 6 0 1 0 12 0a6 6 0 1 0 -12 0M241.7 410.5a6 6 0 1 0 12 0a6 6 0 1 0 -12 0M232.7 459.4a6 6 0 1 0 12 0a6 6 0 1 0 -12 0M223.0 472.6a6 6 0 1 0 12 0a6 6 0 1 0 -12 0M238.7 473.2a6 6 0 1 0 12 0a6 6 0 1 0 -12 0M253.9 423.6a6 6 0 1 0 12 0a6 6 0 1 0 -12 0M269.6 432.0a6 6 0 1 0 12 0a6 6 0 1 0 -12 0M283.5 423.6a6 6 0 1 0 12 0a6 6 0 1 0 -12 0M291.9 438.1a6 6 0 1 0 12 0a6 6 0 1 0 -12 0M296.7 434.5a6 6 0 1 0 12 0a6 6 0 1 0 -12 0M304.6 429.0a6 6 0 1 0 12 0a6 6 0 1 0 -12 0M294.3 456.2a6 6 0 1 0 12 0a6 6 0 1 0 -12 0M243.7 453.8a6 6 0 1 0 12 0a6 6 0 1 0 -12 0M238.8 461.0a6 6 0 1 0 12 0a6 6 0 1 0 -12 0M248.5 479.1a6 6 0 1 0 12 0a6 6 0 1 0 -12 0M266.0 474.3a6 6 0 1 0 12 0a6 6 0 1 0 -12 0M259.9 456.2a6 6 0 1 0 12 0a6 6 0 1 0 -12 0M276.6 372.2a6 6 0 1 0 12 0a6 6 0 1 0 -12 0M289.3 369.8a6 6 0 1 0 12 0a6 6 0 1 0 -12 0M243.5 410.2a6 6 0 1 0 12 0a6 6 0 1 0 -12 0M255.5 419.3a6 6 0 1 0 12 0a6 6 0 1 0 -12 0M257.9 421.7a6 6 0 1 0 12 0a6 6 0 1 0 -12 0M250.7 422.9a6 6 0 1 0 12 0a6 6 0 1 0 -12 0M278.4 393.9a6 6 0 1 0 12 0a6 6 0 1 0 -12 0M285.7 390.3a6 6 0 1 0 12 0a6 6 0 1 0 -12 0M273.6 409.6a6 6 0 1 0 12 0a6 6 0 1 0 -12 0M290.5 383.1a6 6 0 1 0 12 0a6 6 0 1 0 -12 0M238.6 426.5a6 6 0 1 0 12 0a6 6 0 1 0 -12 0M334.7 404.8a6 6 0 1 0 12 0a6 6 0 1 0 -12 0M325.0 407.2a6 6 0 1 0 12 0a6 6 0 1 0 -12 0M349.1 387.9a6 6 0 1 0 12 0a6 6 0 1 0 -12 0M363.6 374.6a6 6 0 1 0 12 0a6 6 0 1 0 -12 0M368.4 363.8a6 6 0 1 0 12 0a6 6 0 1 0 -12 0M370.9 371.0a6 6 0 1 0 12 0a6 6 0 1 0 -12 0M379.3 351.7a6 6 0 1 0 12 0a6 6 0 1 0 -12 0M308.1 412.0a6 6 0 1 0 12 0a6 6 0 1 0 -12 0M304.5 426.5a6 6 0 1 0 12 0a6 6 0 1 0 -12 0M306.3 316.2a6 6 0 1 0 12 0a6 6 0 1 0 -12 0M368.1 285.8a6 6 0 1 0 12 0a6 6 0 1 0 -12 0M353.6 308.8a6 6 0 1 0 12 0a6 6 0 1 0 -12 0M339.1 326.9a6 6 0 1 0 12 0a6 6 0 1 0 -12 0M322.3 336.5a6 6 0 1 0 12 0a6 6 0 1 0 -12 0M368.1 297.9a6 6 0 1 0 12 0a6 6 0 1 0 -12 0M388.8 279.7a6 6 0 1 0 12 0a6 6 0 1 0 -12 0M352.6 309.2a6 6 0 1 0 12 0a6 6 0 1 0 -12 0M338.1 325.5a6 6 0 1 0 12 0a6 6 0 1 0 -12 0M321.2 337.0a6 6 0 1 0 12 0a6 6 0 1 0 -12 0M402.1 344.8a6 6 0 1 0 12 0a6 6 0 1 0 -12 0M388.8 347.2a6 6 0 1 0 12 0a6 6 0 1 0 -12 0M381.6 353.2a6 6 0 1 0 12 0a6 6 0 1 0 -12 0M371.9 362.9a6 6 0 1 0 12 0a6 6 0 1 0 -12 0M416.9 354.8a6 6 0 1 0 12 0a6 6 0 1 0 -12 0M403.3 276.0a6 6 0 1 0 12 0a6 6 0 1 0 -12 0M410.5 274.8a6 6 0 1 0 12 0a6 6 0 1 0 -12 0M429.5 238.6a6 6 0 1 0 12 0a6 6 0 1 0 -12 0M439.1 245.8a6 6 0 1 0 12 0a6 6 0 1 0 -12 0M451.2 230.2a6 6 0 1 0 12 0a6 6 0 1 0 -12 0M458.4 229.0a6 6 0 1 0 12 0a6 6 0 1 0 -12 0M465.7 229.0a6 6 0 1 0 12 0a6 6 0 1 0 -12 0M454.8 236.2a6 6 0 1 0 12 0a6 6 0 1 0 -12 0M446.4 238.6a6 6 0 1 0 12 0a6 6 0 1 0 -12 0M441.6 250.7a6 6 0 1 0 12 0a6 6 0 1 0 -12 0M434.3 255.5a6 6 0 1 0 12 0a6 6 0 1 0 -12 0M444.0 261.5a6 6 0 1 0 12 0a6 6 0 1 0 -12 0M451.2 260.3a6 6 0 1 0 12 0a6 6 0 1 0 -12 0M428.3 260.3a6 6 0 1 0 12 0a6 6 0 1 0 -12 0M468.1 249.5a6 6 0 1 0 12 0a6 6 0 1 0 -12 0M388.5 279.6a6 6 0 1 0 12 0a6 6 0 1 0 -12 0M398.1 278.4a6 6 0 1 0 12 0a6 6 0 1 0 -12 0M403.0 277.2a6 6 0 1 0 12 0a6 6 0 1 0 -12 0M424.7 286.9a6 6 0 1 0 12 0a6 6 0 1 0 -12 0M417.4 294.1a6 6 0 1 0 12 0a6 6 0 1 0 -12 0M427.1 294.1a6 6 0 1 0 12 0a6 6 0 1 0 -12 0M487.7 232.6a6 6 0 1 0 12 0a6 6 0 1 0 -12 0M468.4 249.5a6 6 0 1 0 12 0a6 6 0 1 0 -12 0M474.4 266.9a6 6 0 1 0 12 0a6 6 0 1 0 -12 0M448.5 262.7a6 6 0 1 0 12 0a6 6 0 1 0 -12 0M441.2 261.5a6 6 0 1 0 12 0a6 6 0 1 0 -12 0M453.3 225.3a6 6 0 1 0 12 0a6 6 0 1 0 -12 0M461.7 231.4a6 6 0 1 0 12 0a6 6 0 1 0 -12 0M466.6 229.0a6 6 0 1 0 12 0a6 6 0 1 0 -12 0M456.9 233.8a6 6 0 1 0 12 0a6 6 0 1 0 -12 0M441.2 248.3a6 6 0 1 0 12 0a6 6 0 1 0 -12 0M436.4 245.8a6 6 0 1 0 12 0a6 6 0 1 0 -12 0M446.1 243.4a6 6 0 1 0 12 0a6 6 0 1 0 -12 0M425.4 301.1a6 6 0 1 0 12 0a6 6 0 1 0 -12 0M286.5 368.6a6 6 0 1 0 12 0a6 6 0 1 0 -12 0M280.7 392.7a6 6 0 1 0 12 0a6 6 0 1 0 -12 0M273.0 407.2a6 6 0 1 0 12 0a6 6 0 1 0 -12 0M252.1 425.5a6 6 0 1 0 12 0a6 6 0 1 0 -12 0M247.9 461.4a6 6 0 1 0 12 0a6 6 0 1 0 -12 0M241.1 463.9a6 6 0 1 0 12 0a6 6 0 1 0 -12 0M283.0 393.9a6 6 0 1 0 12 0a6 6 0 1 0 -12 0M291.0 384.5a6 6 0 1 0 12 0a6 6 0 1 0 -12 0M304.0 378.7a6 6 0 1 0 12 0a6 6 0 1 0 -12 0M281.6 420.7a6 6 0 1 0 12 0a6 6 0 1 0 -12 0M295.3 391.7a6 6 0 1 0 12 0a6 6 0 1 0 -12 0" fill="none" stroke="#FF7F00" stroke-width="2.6"/>
<path d="M164.3 529.6a3.8 3.8 0 1 0 7.6 0a3.8 3.8 0 1 0 -7.6 0M164.3 542.5a3.8 3.8 0 1 0 7.6 0a3.8 3.8 0 1 0 -7.6 0M200.9 496.2a3.8 3.8 0 1 0 7.6 0a3.8 3.8 0 1 0 -7.6 0M200.9 488.0a3.8 3.8 0 1 0 7.6 0a3.8 3.8 0 1 0 -7.6 0M207.0 506.8a3.8 3.8 0 1 0 7.6 0a3.8 3.8 0 1 0 -7.6 0M214.2 514.7a3.8 3.8 0 1 0 7.6 0a3.8 3.8 0 1 0 -7.6 0M220.7 485.0a3.8 3.8 0 1 0 7.6 0a3.8 3.8 0 1 0 -7.6 0M225.8 488.7a3.8 3.8 0 1 0 7.6 0a3.8 3.8 0 1 0 -7.6 0M226.5 503.2a3.8 3.8 0 1 0 7.6 0a3.8 3.8 0 1 0 -7.6 0M220.0 507.5a3.8 3.8 0 1 0 7.6 0a3.8 3.8 0 1 0 -7.6 0M235.9 504.6a3.8 3.8 0 1 0 7.6 0a3.8 3.8 0 1 0 -7.6 0M246.1 489.4a3.8 3.8 0 1 0 7.6 0a3.8 3.8 0 1 0 -7.6 0M213.2 444.3a3.8 3.8 0 1 0 7.6 0a3.8 3.8 0 1 0 -7.6 0M199.2 457.0a3.8 3.8 0 1 0 7.6 0a3.8 3.8 0 1 0 -7.6 0M207.7 473.2a3.8 3.8 0 1 0 7.6 0a3.8 3.8 0 1 0 -7.6 0M213.8 478.0a3.8 3.8 0 1 0 7.6 0a3.8 3.8 0 1 0 -7.6 0M224.6 458.2a3.8 3.8 0 1 0 7.6 0a3.8 3.8 0 1 0 -7.6 0M224.6 463.6a3.8 3.8 0 1 0 7.6 0a3.8 3.8 0 1 0 -7.6 0M230.6 470.8a3.8 3.8 0 1 0 7.6 0a3.8 3.8 0 1 0 -7.6 0M237.9 447.9a3.8 3.8 0 1 0 7.6 0a3.8 3.8 0 1 0 -7.6 0M240.3 413.5a3.8 3.8 0 1 0 7.6 0a3.8 3.8 0 1 0 -7.6 0M243.9 441.9a3.8 3.8 0 1 0 7.6 0a3.8 3.8 0 1 0 -7.6 0M219.8 485.3a3.8 3.8 0 1 0 7.6 0a3.8 3.8 0 1 0 -7.6 0M225.8 486.5a3.8 3.8 0 1 0 7.6 0a3.8 3.8 0 1 0 -7.6 0M200.5 487.7a3.8 3.8 0 1 0 7.6 0a3.8 3.8 0 1 0 -7.6 0M239.1 474.4a3.8 3.8 0 1 0 7.6 0a3.8 3.8 0 1 0 -7.6 0M327.9 434.5a3.8 3.8 0 1 0 7.6 0a3.8 3.8 0 1 0 -7.6 0M276.0 465.8a3.8 3.8 0 1 0 7.6 0a3.8 3.8 0 1 0 -7.6 0M276.6 473.1a3.8 3.8 0 1 0 7.6 0a3.8 3.8 0 1 0 -7.6 0M279.0 490.6a3.8 3.8 0 1 0 7.6 0a3.8 3.8 0 1 0 -7.6 0M249.5 488.8a3.8 3.8 0 1 0 7.6 0a3.8 3.8 0 1 0 -7.6 0M253.7 490.6a3.8 3.8 0 1 0 7.6 0a3.8 3.8 0 1 0 -7.6 0M267.0 499.6a3.8 3.8 0 1 0 7.6 0a3.8 3.8 0 1 0 -7.6 0M267.0 509.9a3.8 3.8 0 1 0 7.6 0a3.8 3.8 0 1 0 -7.6 0M286.2 455.6a3.8 3.8 0 1 0 7.6 0a3.8 3.8 0 1 0 -7.6 0M288.1 449.0a3.8 3.8 0 1 0 7.6 0a3.8 3.8 0 1 0 -7.6 0M300.1 450.8a3.8 3.8 0 1 0 7.6 0a3.8 3.8 0 1 0 -7.6 0M296.5 445.9a3.8 3.8 0 1 0 7.6 0a3.8 3.8 0 1 0 -7.6 0M241.0 473.1a3.8 3.8 0 1 0 7.6 0a3.8 3.8 0 1 0 -7.6 0M267.6 463.4a3.8 3.8 0 1 0 7.6 0a3.8 3.8 0 1 0 -7.6 0M256.7 476.7a3.8 3.8 0 1 0 7.6 0a3.8 3.8 0 1 0 -7.6 0M255.5 481.5a3.8 3.8 0 1 0 7.6 0a3.8 3.8 0 1 0 -7.6 0M245.9 434.5a3.8 3.8 0 1 0 7.6 0a3.8 3.8 0 1 0 -7.6 0M251.9 435.7a3.8 3.8 0 1 0 7.6 0a3.8 3.8 0 1 0 -7.6 0M259.1 441.7a3.8 3.8 0 1 0 7.6 0a3.8 3.8 0 1 0 -7.6 0M263.9 447.7a3.8 3.8 0 1 0 7.6 0a3.8 3.8 0 1 0 -7.6 0M276.0 447.7a3.8 3.8 0 1 0 7.6 0a3.8 3.8 0 1 0 -7.6 0M282.0 444.7a3.8 3.8 0 1 0 7.6 0a3.8 3.8 0 1 0 -7.6 0M308.6 435.7a3.8 3.8 0 1 0 7.6 0a3.8 3.8 0 1 0 -7.6 0M247.1 446.5a3.8 3.8 0 1 0 7.6 0a3.8 3.8 0 1 0 -7.6 0M241.0 449.0a3.8 3.8 0 1 0 7.6 0a3.8 3.8 0 1 0 -7.6 0M249.0 388.9a3.8 3.8 0 1 0 7.6 0a3.8 3.8 0 1 0 -7.6 0M295.1 346.3a3.8 3.8 0 1 0 7.6 0a3.8 3.8 0 1 0 -7.6 0M292.7 359.0a3.8 3.8 0 1 0 7.6 0a3.8 3.8 0 1 0 -7.6 0M281.2 372.2a3.8 3.8 0 1 0 7.6 0a3.8 3.8 0 1 0 -7.6 0M263.8 408.4a3.8 3.8 0 1 0 7.6 0a3.8 3.8 0 1 0 -7.6 0M269.8 403.6a3.8 3.8 0 1 0 7.6 0a3.8 3.8 0 1 0 -7.6 0M240.8 413.2a3.8 3.8 0 1 0 7.6 0a3.8 3.8 0 1 0 -7.6 0M244.5 421.7a3.8 3.8 0 1 0 7.6 0a3.8 3.8 0 1 0 -7.6 0M280.6 384.3a3.8 3.8 0 1 0 7.6 0a3.8 3.8 0 1 0 -7.6 0M278.2 393.9a3.8 3.8 0 1 0 7.6 0a3.8 3.8 0 1 0 -7.6 0M295.9 345.7a3.8 3.8 0 1 0 7.6 0a3.8 3.8 0 1 0 -7.6 0M304.3 348.1a3.8 3.8 0 1 0 7.6 0a3.8 3.8 0 1 0 -7.6 0M310.3 349.3a3.8 3.8 0 1 0 7.6 0a3.8 3.8 0 1 0 -7.6 0M300.7 354.1a3.8 3.8 0 1 0 7.6 0a3.8 3.8 0 1 0 -7.6 0M293.4 360.2a3.8 3.8 0 1 0 7.6 0a3.8 3.8 0 1 0 -7.6 0M316.4 345.7a3.8 3.8 0 1 0 7.6 0a3.8 3.8 0 1 0 -7.6 0M323.6 349.3a3.8 3.8 0 1 0 7.6 0a3.8 3.8 0 1 0 -7.6 0M370.6 378.3a3.8 3.8 0 1 0 7.6 0a3.8 3.8 0 1 0 -7.6 0M346.5 399.4a3.8 3.8 0 1 0 7.6 0a3.8 3.8 0 1 0 -7.6 0M339.3 413.2a3.8 3.8 0 1 0 7.6 0a3.8 3.8 0 1 0 -7.6 0M339.9 421.1a3.8 3.8 0 1 0 7.6 0a3.8 3.8 0 1 0 -7.6 0M329.6 412.0a3.8 3.8 0 1 0 7.6 0a3.8 3.8 0 1 0 -7.6 0M370.9 286.4a3.8 3.8 0 1 0 7.6 0a3.8 3.8 0 1 0 -7.6 0M375.7 273.8a3.8 3.8 0 1 0 7.6 0a3.8 3.8 0 1 0 -7.6 0M359.4 301.5a3.8 3.8 0 1 0 7.6 0a3.8 3.8 0 1 0 -7.6 0M353.4 310.6a3.8 3.8 0 1 0 7.6 0a3.8 3.8 0 1 0 -7.6 0M347.4 315.4a3.8 3.8 0 1 0 7.6 0a3.8 3.8 0 1 0 -7.6 0M343.8 320.2a3.8 3.8 0 1 0 7.6 0a3.8 3.8 0 1 0 -7.6 0M328.1 324.4a3.8 3.8 0 1 0 7.6 0a3.8 3.8 0 1 0 -7.6 0M334.1 324.4a3.8 3.8 0 1 0 7.6 0a3.8 3.8 0 1 0 -7.6 0M330.5 329.3a3.8 3.8 0 1 0 7.6 0a3.8 3.8 0 1 0 -7.6 0M377.7 273.6a3.8 3.8 0 1 0 7.6 0a3.8 3.8 0 1 0 -7.6 0M347.0 315.2a3.8 3.8 0 1 0 7.6 0a3.8 3.8 0 1 0 -7.6 0M328.3 324.9a3.8 3.8 0 1 0 7.6 0a3.8 3.8 0 1 0 -7.6 0M334.3 323.7a3.8 3.8 0 1 0 7.6 0a3.8 3.8 0 1 0 -7.6 0M330.7 330.3a3.8 3.8 0 1 0 7.6 0a3.8 3.8 0 1 0 -7.6 0M321.0 338.8a3.8 3.8 0 1 0 7.6 0a3.8 3.8 0 1 0 -7.6 0M398.2 353.8a3.8 3.8 0 1 0 7.6 0a3.8 3.8 0 1 0 -7.6 0M405.5 362.3a3.8 3.8 0 1 0 7.6 0a3.8 3.8 0 1 0 -7.6 0M412.7 340.0a3.8 3.8 0 1 0 7.6 0a3.8 3.8 0 1 0 -7.6 0M403.1 335.1a3.8 3.8 0 1 0 7.6 0a3.8 3.8 0 1 0 -7.6 0M411.5 325.5a3.8 3.8 0 1 0 7.6 0a3.8 3.8 0 1 0 -7.6 0M407.9 326.7a3.8 3.8 0 1 0 7.6 0a3.8 3.8 0 1 0 -7.6 0M380.1 360.5a3.8 3.8 0 1 0 7.6 0a3.8 3.8 0 1 0 -7.6 0M376.5 280.9a3.8 3.8 0 1 0 7.6 0a3.8 3.8 0 1 0 -7.6 0M395.8 271.2a3.8 3.8 0 1 0 7.6 0a3.8 3.8 0 1 0 -7.6 0M403.1 271.8a3.8 3.8 0 1 0 7.6 0a3.8 3.8 0 1 0 -7.6 0M449.8 217.5a3.8 3.8 0 1 0 7.6 0a3.8 3.8 0 1 0 -7.6 0M395.5 270.0a3.8 3.8 0 1 0 7.6 0a3.8 3.8 0 1 0 -7.6 0M378.6 273.6a3.8 3.8 0 1 0 7.6 0a3.8 3.8 0 1 0 -7.6 0M378.0 280.8a3.8 3.8 0 1 0 7.6 0a3.8 3.8 0 1 0 -7.6 0M403.9 272.4a3.8 3.8 0 1 0 7.6 0a3.8 3.8 0 1 0 -7.6 0M438.9 273.6a3.8 3.8 0 1 0 7.6 0a3.8 3.8 0 1 0 -7.6 0M435.3 277.2a3.8 3.8 0 1 0 7.6 0a3.8 3.8 0 1 0 -7.6 0M460.6 279.6a3.8 3.8 0 1 0 7.6 0a3.8 3.8 0 1 0 -7.6 0M453.4 283.2a3.8 3.8 0 1 0 7.6 0a3.8 3.8 0 1 0 -7.6 0M460.6 295.3a3.8 3.8 0 1 0 7.6 0a3.8 3.8 0 1 0 -7.6 0M454.6 259.1a3.8 3.8 0 1 0 7.6 0a3.8 3.8 0 1 0 -7.6 0M460.6 260.3a3.8 3.8 0 1 0 7.6 0a3.8 3.8 0 1 0 -7.6 0M471.5 250.7a3.8 3.8 0 1 0 7.6 0a3.8 3.8 0 1 0 -7.6 0M475.1 226.5a3.8 3.8 0 1 0 7.6 0a3.8 3.8 0 1 0 -7.6 0M422.0 250.7a3.8 3.8 0 1 0 7.6 0a3.8 3.8 0 1 0 -7.6 0M467.9 238.6a3.8 3.8 0 1 0 7.6 0a3.8 3.8 0 1 0 -7.6 0M499.5 201.2a3.8 3.8 0 1 0 7.6 0a3.8 3.8 0 1 0 -7.6 0M477.2 233.2a3.8 3.8 0 1 0 7.6 0a3.8 3.8 0 1 0 -7.6 0M489.9 232.0a3.8 3.8 0 1 0 7.6 0a3.8 3.8 0 1 0 -7.6 0M471.8 251.3a3.8 3.8 0 1 0 7.6 0a3.8 3.8 0 1 0 -7.6 0M469.4 239.8a3.8 3.8 0 1 0 7.6 0a3.8 3.8 0 1 0 -7.6 0M457.9 259.1a3.8 3.8 0 1 0 7.6 0a3.8 3.8 0 1 0 -7.6 0M460.3 261.5a3.8 3.8 0 1 0 7.6 0a3.8 3.8 0 1 0 -7.6 0M441.0 273.6a3.8 3.8 0 1 0 7.6 0a3.8 3.8 0 1 0 -7.6 0M454.3 282.0a3.8 3.8 0 1 0 7.6 0a3.8 3.8 0 1 0 -7.6 0M459.7 279.6a3.8 3.8 0 1 0 7.6 0a3.8 3.8 0 1 0 -7.6 0M450.7 284.4a3.8 3.8 0 1 0 7.6 0a3.8 3.8 0 1 0 -7.6 0M481.4 281.4a3.8 3.8 0 1 0 7.6 0a3.8 3.8 0 1 0 -7.6 0M489.3 277.8a3.8 3.8 0 1 0 7.6 0a3.8 3.8 0 1 0 -7.6 0M437.4 277.2a3.8 3.8 0 1 0 7.6 0a3.8 3.8 0 1 0 -7.6 0M511.5 157.5a3.8 3.8 0 1 0 7.6 0a3.8 3.8 0 1 0 -7.6 0M573.1 156.3a3.8 3.8 0 1 0 7.6 0a3.8 3.8 0 1 0 -7.6 0M549.5 184.8a3.8 3.8 0 1 0 7.6 0a3.8 3.8 0 1 0 -7.6 0M551.2 183.3a3.8 3.8 0 1 0 7.6 0a3.8 3.8 0 1 0 -7.6 0M438.4 302.9a3.8 3.8 0 1 0 7.6 0a3.8 3.8 0 1 0 -7.6 0M436.0 292.7a3.8 3.8 0 1 0 7.6 0a3.8 3.8 0 1 0 -7.6 0M428.8 299.9a3.8 3.8 0 1 0 7.6 0a3.8 3.8 0 1 0 -7.6 0M408.3 325.2a3.8 3.8 0 1 0 7.6 0a3.8 3.8 0 1 0 -7.6 0M416.7 325.2a3.8 3.8 0 1 0 7.6 0a3.8 3.8 0 1 0 -7.6 0M418.5 327.0a3.8 3.8 0 1 0 7.6 0a3.8 3.8 0 1 0 -7.6 0M413.1 327.0a3.8 3.8 0 1 0 7.6 0a3.8 3.8 0 1 0 -7.6 0M402.8 379.5a3.8 3.8 0 1 0 7.6 0a3.8 3.8 0 1 0 -7.6 0M296.4 345.4a3.8 3.8 0 1 0 7.6 0a3.8 3.8 0 1 0 -7.6 0M304.1 346.4a3.8 3.8 0 1 0 7.6 0a3.8 3.8 0 1 0 -7.6 0M309.9 348.3a3.8 3.8 0 1 0 7.6 0a3.8 3.8 0 1 0 -7.6 0M300.3 352.2a3.8 3.8 0 1 0 7.6 0a3.8 3.8 0 1 0 -7.6 0M306.0 354.1a3.8 3.8 0 1 0 7.6 0a3.8 3.8 0 1 0 -7.6 0M297.4 358.0a3.8 3.8 0 1 0 7.6 0a3.8 3.8 0 1 0 -7.6 0M294.5 360.9a3.8 3.8 0 1 0 7.6 0a3.8 3.8 0 1 0 -7.6 0M313.8 349.3a3.8 3.8 0 1 0 7.6 0a3.8 3.8 0 1 0 -7.6 0M319.6 342.5a3.8 3.8 0 1 0 7.6 0a3.8 3.8 0 1 0 -7.6 0M323.4 338.7a3.8 3.8 0 1 0 7.6 0a3.8 3.8 0 1 0 -7.6 0M280.5 372.5a3.8 3.8 0 1 0 7.6 0a3.8 3.8 0 1 0 -7.6 0M248.4 434.4a3.8 3.8 0 1 0 7.6 0a3.8 3.8 0 1 0 -7.6 0M244.2 439.4a3.8 3.8 0 1 0 7.6 0a3.8 3.8 0 1 0 -7.6 0M256.8 440.3a3.8 3.8 0 1 0 7.6 0a3.8 3.8 0 1 0 -7.6 0M261.9 438.6a3.8 3.8 0 1 0 7.6 0a3.8 3.8 0 1 0 -7.6 0M260.2 445.3a3.8 3.8 0 1 0 7.6 0a3.8 3.8 0 1 0 -7.6 0M270.3 447.9a3.8 3.8 0 1 0 7.6 0a3.8 3.8 0 1 0 -7.6 0M273.7 429.3a3.8 3.8 0 1 0 7.6 0a3.8 3.8 0 1 0 -7.6 0M277.9 426.8a3.8 3.8 0 1 0 7.6 0a3.8 3.8 0 1 0 -7.6 0M231.5 462.2a3.8 3.8 0 1 0 7.6 0a3.8 3.8 0 1 0 -7.6 0M246.7 442.0a3.8 3.8 0 1 0 7.6 0a3.8 3.8 0 1 0 -7.6 0M274.5 463.1a3.8 3.8 0 1 0 7.6 0a3.8 3.8 0 1 0 -7.6 0M270.3 462.2a3.8 3.8 0 1 0 7.6 0a3.8 3.8 0 1 0 -7.6 0M221.3 485.9a3.8 3.8 0 1 0 7.6 0a3.8 3.8 0 1 0 -7.6 0M249.2 486.7a3.8 3.8 0 1 0 7.6 0a3.8 3.8 0 1 0 -7.6 0M275.4 487.6a3.8 3.8 0 1 0 7.6 0a3.8 3.8 0 1 0 -7.6 0M274.4 394.6a3.8 3.8 0 1 0 7.6 0a3.8 3.8 0 1 0 -7.6 0M278.7 394.6a3.8 3.8 0 1 0 7.6 0a3.8 3.8 0 1 0 -7.6 0M291.7 410.5a3.8 3.8 0 1 0 7.6 0a3.8 3.8 0 1 0 -7.6 0M296.1 407.6a3.8 3.8 0 1 0 7.6 0a3.8 3.8 0 1 0 -7.6 0M301.9 413.4a3.8 3.8 0 1 0 7.6 0a3.8 3.8 0 1 0 -7.6 0M272.9 420.7a3.8 3.8 0 1 0 7.6 0a3.8 3.8 0 1 0 -7.6 0M265.7 414.9a3.8 3.8 0 1 0 7.6 0a3.8 3.8 0 1 0 -7.6 0M324.5 422.0a3.8 3.8 0 1 0 7.6 0a3.8 3.8 0 1 0 -7.6 0M322.7 417.5a3.8 3.8 0 1 0 7.6 0a3.8 3.8 0 1 0 -7.6 0" fill="#00C800"/>
<path d="M347.0 353.6h10.4M352.2 348.4v10.4M328.1 365.4h10.4M333.3 360.2v10.4M381.4 322.9h10.4M386.6 317.7v10.4M371.0 325.9h10.4M376.2 320.7v10.4M341.4 355.1h10.4M346.6 349.9v10.4M309.9 386.9h10.4M315.1 381.7v10.4M406.4 299.0h10.4M411.6 293.8v10.4M347.7 358.1h10.4M352.9 352.9v10.4M324.8 368.2h10.4M330.0 363.0v10.4M365.2 339.6h10.4M370.4 334.4v10.4M381.7 323.0h10.4M386.9 317.8v10.4M386.9 323.7h10.4M392.1 318.5v10.4M325.5 376.8h10.4M330.7 371.6v10.4M358.4 340.8h10.4M363.6 335.6v10.4M349.3 355.7h10.4M354.5 350.5v10.4M417.1 298.9h10.4M422.3 293.7v10.4M330.5 375.0h10.4M335.7 369.8v10.4M299.4 393.2h10.4M304.6 388.0v10.4M362.9 348.9h10.4M368.1 343.7v10.4M314.6 392.1h10.4M319.8 386.9v10.4M413.8 290.5h10.4M419.0 285.3v10.4M387.7 325.1h10.4M392.9 319.9v10.4M343.7 363.6h10.4M348.9 358.4v10.4M393.7 314.7h10.4M398.9 309.5v10.4M410.1 305.0h10.4M415.3 299.8v10.4M424.3 285.5h10.4M429.5 280.3v10.4M316.9 380.2h10.4M322.1 375.0v10.4M322.6 380.9h10.4M327.8 375.7v10.4M396.6 301.6h10.4M401.8 296.4v10.4M386.2 324.0h10.4M391.4 318.8v10.4M340.5 363.1h10.4M345.7 357.9v10.4M315.4 390.7h10.4M320.6 385.5v10.4M298.4 411.5h10.4M303.6 406.3v10.4M403.5 306.1h10.4M408.7 300.9v10.4M329.5 381.0h10.4M334.7 375.8v10.4M424.2 277.3h10.4M429.4 272.1v10.4M399.1 314.3h10.4M404.3 309.1v10.4M383.2 326.5h10.4M388.4 321.3v10.4M353.8 358.4h10.4M359.0 353.2v10.4M425.9 280.5h10.4M431.1 275.3v10.4M402.8 303.1h10.4M408.0 297.9v10.4M315.4 383.1h10.4M320.6 377.9v10.4M310.1 399.1h10.4M315.3 393.9v10.4M424.2 277.0h10.4M429.4 271.8v10.4M375.1 328.6h10.4M380.3 323.4v10.4M309.0 388.5h10.4M314.2 383.3v10.4M326.8 380.4h10.4M332.0 375.2v10.4M293.3 401.2h10.4M298.5 396.0v10.4M352.9 342.0h10.4M358.1 336.8v10.4M378.8 328.9h10.4M384.0 323.7v10.4M407.2 294.6h10.4M412.4 289.4v10.4M331.8 371.8h10.4M337.0 366.6v10.4M330.2 374.1h10.4M335.4 368.9v10.4M327.2 378.8h10.4M332.4 373.6v10.4M401.2 311.7h10.4M406.4 306.5v10.4M426.2 283.2h10.4M431.4 278.0v10.4M360.0 351.2h10.4M365.2 346.0v10.4M398.2 310.0h10.4M403.4 304.8v10.4M345.3 354.2h10.4M350.5 349.0v10.4M307.6 399.5h10.4M312.8 394.3v10.4M309.0 397.1h10.4M314.2 391.9v10.4M367.5 346.3h10.4M372.7 341.1v10.4M397.1 318.7h10.4M402.3 313.5v10.4M311.5 390.0h10.4M316.7 384.8v10.4M371.2 330.4h10.4M376.4 325.2v10.4M361.7 340.2h10.4M366.9 335.0v10.4M365.2 330.1h10.4M370.4 324.9v10.4M353.4 349.7h10.4M358.6 344.5v10.4M334.6 366.5h10.4M339.8 361.3v10.4M400.1 310.4h10.4M405.3 305.2v10.4M360.2 347.1h10.4M365.4 341.9v10.4M344.5 353.4h10.4M349.7 348.2v10.4M293.3 402.8h10.4M298.5 397.6v10.4M374.7 337.9h10.4M379.9 332.7v10.4M406.4 301.1h10.4M411.6 295.9v10.4M428.0 279.9h10.4M433.2 274.7v10.4M407.1 298.5h10.4M412.3 293.3v10.4M394.8 321.1h10.4M400.0 315.9v10.4M334.6 362.0h10.4M339.8 356.8v10.4M377.7 328.4h10.4M382.9 323.2v10.4M342.0 351.9h10.4M347.2 346.7v10.4M346.1 356.1h10.4M351.3 350.9v10.4M348.3 362.3h10.4M353.5 357.1v10.4M372.9 336.9h10.4M378.1 331.7v10.4M415.8 296.8h10.4M421.0 291.6v10.4M360.3 348.9h10.4M365.5 343.7v10.4M380.5 328.1h10.4M385.7 322.9v10.4M379.1 324.8h10.4M384.3 319.6v10.4M379.0 329.2h10.4M384.2 324.0v10.4M421.2 292.4h10.4M426.4 287.2v10.4M408.7 303.8h10.4M413.9 298.6v10.4M404.5 304.7h10.4M409.7 299.5v10.4M340.7 358.2h10.4M345.9 353.0v10.4M389.8 323.6h10.4M395.0 318.4v10.4M367.4 331.0h10.4M372.6 325.8v10.4M406.9 300.2h10.4M412.1 295.0v10.4M356.8 338.9h10.4M362.0 333.7v10.4M362.7 346.6h10.4M367.9 341.4v10.4M350.7 350.5h10.4M355.9 345.3v10.4M382.8 314.0h10.4M388.0 308.8v10.4M362.3 350.8h10.4M367.5 345.6v10.4M387.4 316.9h10.4M392.6 311.7v10.4M387.2 321.0h10.4M392.4 315.8v10.4M321.4 375.2h10.4M326.6 370.0v10.4M414.2 289.3h10.4M419.4 284.1v10.4M303.1 404.2h10.4M308.3 399.0v10.4M364.5 337.8h10.4M369.7 332.6v10.4M362.9 346.3h10.4M368.1 341.1v10.4M315.9 388.8h10.4M321.1 383.6v10.4M390.5 321.8h10.4M395.7 316.6v10.4M329.8 375.0h10.4M335.0 369.8v10.4M324.6 378.9h10.4M329.8 373.7v10.4M316.4 390.9h10.4M321.6 385.7v10.4M411.5 292.9h10.4M416.7 287.7v10.4M323.3 387.8h10.4M328.5 382.6v10.4M389.6 323.2h10.4M394.8 318.0v10.4M297.0 411.2h10.4M302.2 406.0v10.4M378.1 324.0h10.4M383.3 318.8v10.4M352.0 357.0h10.4M357.2 351.8v10.4M400.4 300.7h10.4M405.6 295.5v10.4M378.5 320.7h10.4M383.7 315.5v10.4M426.1 281.4h10.4M431.3 276.2v10.4M417.9 294.5h10.4M423.1 289.3v10.4M375.9 325.1h10.4M381.1 319.9v10.4M364.9 333.0h10.4M370.1 327.8v10.4M311.7 393.9h10.4M316.9 388.7v10.4M342.3 365.9h10.4M347.5 360.7v10.4M325.7 380.8h10.4M330.9 375.6v10.4M391.2 311.5h10.4M396.4 306.3v10.4M307.4 391.9h10.4M312.6 386.7v10.4M360.3 336.7h10.4M365.5 331.5v10.4M318.4 375.1h10.4M323.6 369.9v10.4M374.7 338.1h10.4M379.9 332.9v10.4M322.5 370.9h10.4M327.7 365.7v10.4M389.2 323.0h10.4M394.4 317.8v10.4M424.9 285.8h10.4M430.1 280.6v10.4M339.7 370.0h10.4M344.9 364.8v10.4M309.0 396.0h10.4M314.2 390.8v10.4M305.8 393.4h10.4M311.0 388.2v10.4M360.6 341.6h10.4M365.8 336.4v10.4M315.9 380.8h10.4M321.1 375.6v10.4M405.2 301.4h10.4M410.4 296.2v10.4M372.3 327.5h10.4M377.5 322.3v10.4M390.7 312.4h10.4M395.9 307.2v10.4M374.1 339.0h10.4M379.3 333.8v10.4M429.0 271.1h10.4M434.2 265.9v10.4M402.0 311.8h10.4M407.2 306.6v10.4M336.6 364.3h10.4M341.8 359.1v10.4M372.3 340.9h10.4M377.5 335.7v10.4M347.6 363.4h10.4M352.8 358.2v10.4M396.7 303.4h10.4M401.9 298.2v10.4M418.0 280.9h10.4M423.2 275.7v10.4M312.7 392.0h10.4M317.9 386.8v10.4M300.6 397.9h10.4M305.8 392.7v10.4M310.6 390.1h10.4M315.8 384.9v10.4M407.9 307.3h10.4M413.1 302.1v10.4M297.7 394.7h10.4M302.9 389.5v10.4M408.0 290.8h10.4M413.2 285.6v10.4M330.3 365.1h10.4M335.5 359.9v10.4M305.3 386.9h10.4M310.5 381.7v10.4M380.1 330.2h10.4M385.3 325.0v10.4M386.9 325.8h10.4M392.1 320.6v10.4M383.6 320.2h10.4M388.8 315.0v10.4M379.3 335.3h10.4M384.5 330.1v10.4M380.7 320.2h10.4M385.9 315.0v10.4M301.0 408.1h10.4M306.2 402.9v10.4M373.7 328.8h10.4M378.9 323.6v10.4M375.7 330.9h10.4M380.9 325.7v10.4M364.3 332.1h10.4M369.5 326.9v10.4M341.2 360.5h10.4M346.4 355.3v10.4M320.1 389.2h10.4M325.3 384.0v10.4M350.9 356.1h10.4M356.1 350.9v10.4M390.6 320.4h10.4M395.8 315.2v10.4M391.6 319.6h10.4M396.8 314.4v10.4M327.3 384.3h10.4M332.5 379.1v10.4M313.5 396.1h10.4M318.7 390.9v10.4M409.9 304.4h10.4M415.1 299.2v10.4M300.0 393.0h10.4M305.2 387.8v10.4M404.2 302.4h10.4M409.4 297.2v10.4M343.5 369.2h10.4M348.7 364.0v10.4M298.3 403.0h10.4M303.5 397.8v10.4M353.5 343.5h10.4M358.7 338.3v10.4M346.9 360.7h10.4M352.1 355.5v10.4M413.7 285.1h10.4M418.9 279.9v10.4M364.7 332.3h10.4M369.9 327.1v10.4M402.5 296.8h10.4M407.7 291.6v10.4M297.5 401.0h10.4M302.7 395.8v10.4M393.2 309.8h10.4M398.4 304.6v10.4M310.6 396.4h10.4M315.8 391.2v10.4M403.3 310.6h10.4M408.5 305.4v10.4M368.7 320.0h10.4M373.9 314.8v10.4M363.1 326.8h10.4M368.3 321.6v10.4M371.2 316.6h10.4M376.4 311.4v10.4M414.2 283.6h10.4M419.4 278.4v10.4M395.3 291.1h10.4M400.5 285.9v10.4M401.8 289.2h10.4M407.0 284.0v10.4M433.7 262.5h10.4M438.9 257.3v10.4M419.1 275.9h10.4M424.3 270.7v10.4M390.7 305.0h10.4M395.9 299.8v10.4M418.8 271.3h10.4M424.0 266.1v10.4M354.7 332.4h10.4M359.9 327.2v10.4M389.3 296.7h10.4M394.5 291.5v10.4M408.6 278.6h10.4M413.8 273.4v10.4M396.5 293.7h10.4M401.7 288.5v10.4M420.8 262.9h10.4M426.0 257.7v10.4M406.7 276.8h10.4M411.9 271.6v10.4M407.8 282.1h10.4M413.0 276.9v10.4M414.8 271.9h10.4M420.0 266.7v10.4M400.8 291.4h10.4M406.0 286.2v10.4M407.8 275.4h10.4M413.0 270.2v10.4M397.6 295.4h10.4M402.8 290.2v10.4M414.0 278.9h10.4M419.2 273.7v10.4" fill="none" stroke="#87CEFA" stroke-width="2.7" stroke-linecap="round"/>
<path d="M427.8 287.7a6 6 0 1 0 12 0a6 6 0 1 0 -12 0M301.9 392.1a6 6 0 1 0 12 0a6 6 0 1 0 -12 0M411.0 300.2a6 6 0 1 0 12 0a6 6 0 1 0 -12 0M387.8 315.1a6 6 0 1 0 12 0a6 6 0 1 0 -12 0M378.8 328.3a6 6 0 1 0 12 0a6 6 0 1 0 -12 0M375.4 324.4a6 6 0 1 0 12 0a6 6 0 1 0 -12 0M354.3 347.9a6 6 0 1 0 12 0a6 6 0 1 0 -12 0M395.2 319.1a6 6 0 1 0 12 0a6 6 0 1 0 -12 0" fill="none" stroke="#FF7F00" stroke-width="2.6"/>
<path d="M280.0 436.3h10.4M285.2 431.1v10.4M257.7 453.2h10.4M262.9 448.0v10.4M276.4 456.8h10.4M281.6 451.6v10.4M260.1 474.9h10.4M265.3 469.7v10.4M319.1 419.2h10.4M324.3 414.0v10.4M292.7 420.6h10.4M297.9 415.4v10.4M287.7 397.6h10.4M292.9 392.4v10.4M417.0 255.5h10.4M422.2 250.3v10.4M418.2 262.7h10.4M423.4 257.5v10.4M414.6 267.6h10.4M419.8 262.4v10.4M412.2 272.4h10.4M417.4 267.2v10.4M409.8 278.4h10.4M415.0 273.2v10.4M406.2 284.4h10.4M411.4 279.2v10.4M414.6 278.4h10.4M419.8 273.2v10.4M423.1 289.3h10.4M428.3 284.1v10.4M443.6 235.0h10.4M448.8 229.8v10.4M442.4 230.2h10.4M447.6 225.0v10.4M411.0 256.7h10.4M416.2 251.5v10.4M425.5 278.4h10.4M430.7 273.2v10.4M402.5 291.7h10.4M407.7 286.5v10.4M413.4 296.5h10.4M418.6 291.3v10.4M443.2 233.8h10.4M448.4 228.6v10.4M410.5 298.1h10.4M415.7 292.9v10.4M402.0 299.3h10.4M407.2 294.1v10.4M423.8 287.2h10.4M429.0 282.0v10.4M422.5 293.3h10.4M427.7 288.1v10.4M288.2 395.6h10.4M293.4 390.4v10.4M302.7 397.6h10.4M307.9 392.4v10.4M312.4 387.9h10.4M317.6 382.7v10.4M316.2 375.4h10.4M321.4 370.2v10.4M320.1 368.6h10.4M325.3 363.4v10.4M300.5 398.9h10.4M305.7 393.7v10.4M290.3 395.3h10.4M295.5 390.1v10.4M306.2 403.3h10.4M311.4 398.1v10.4M293.2 410.5h10.4M298.4 405.3v10.4" fill="none" stroke="#87CEFA" stroke-width="2.7" stroke-linecap="round"/>
<path d="M265.7 441.1h17.4M274.4 432.4v17.4M285.4 414.4h17.4M294.1 405.7v17.4M294.0 380.7h17.4M302.7 372.0v17.4M317.5 384.9h17.4M326.2 376.2v17.4M388.5 287.5h17.4M397.2 278.8v17.4M378.9 293.5h17.4M387.6 284.8v17.4M374.0 308.6h17.4M382.7 299.9v17.4M375.2 311.6h17.4M383.9 302.9v17.4M388.5 322.5h17.4M397.2 313.8v17.4M348.7 324.3h17.4M357.4 315.6v17.4M335.4 336.3h17.4M344.1 327.6v17.4M350.1 336.0h17.4M358.8 327.3v17.4M366.8 335.7h17.4M375.5 327.0v17.4M352.3 346.0h17.4M361.0 337.3v17.4M329.4 353.2h17.4M338.1 344.5v17.4" fill="none" stroke="#FF0000" stroke-width="2.7" stroke-linecap="round"/>
</g>
<g clip-path="url(#clipB)">
<path d="M982.8 350.8a6 6 0 1 0 12 0a6 6 0 1 0 -12 0M996.0 339.7a6 6 0 1 0 12 0a6 6 0 1 0 -12 0M1021.6 302.3a6 6 0 1 0 12 0a6 6 0 1 0 -12 0M960.3 379.3a6 6 0 1 0 12 0a6 6 0 1 0 -12 0M984.9 341.3a6 6 0 1 0 12 0a6 6 0 1 0 -12 0M1058.6 276.8a6 6 0 1 0 12 0a6 6 0 1 0 -12 0M1042.6 292.1a6 6 0 1 0 12 0a6 6 0 1 0 -12 0M1022.9 303.1a6 6 0 1 0 12 0a6 6 0 1 0 -12 0M1022.5 320.7a6 6 0 1 0 12 0a6 6 0 1 0 -12 0M1011.3 328.3a6 6 0 1 0 12 0a6 6 0 1 0 -12 0M1026.1 297.9a6 6 0 1 0 12 0a6 6 0 1 0 -12 0M1034.8 302.3a6 6 0 1 0 12 0a6 6 0 1 0 -12 0M989.1 332.5a6 6 0 1 0 12 0a6 6 0 1 0 -12 0M1045.6 289.2a6 6 0 1 0 12 0a6 6 0 1 0 -12 0M1030.9 313.0a6 6 0 1 0 12 0a6 6 0 1 0 -12 0M1030.4 314.4a6 6 0 1 0 12 0a6 6 0 1 0 -12 0M998.5 342.0a6 6 0 1 0 12 0a6 6 0 1 0 -12 0M1003.5 340.5a6 6 0 1 0 12 0a6 6 0 1 0 -12 0M1046.9 279.0a6 6 0 1 0 12 0a6 6 0 1 0 -12 0M972.6 352.7a6 6 0 1 0 12 0a6 6 0 1 0 -12 0M1055.5 278.8a6 6 0 1 0 12 0a6 6 0 1 0 -12 0M1021.7 307.9a6 6 0 1 0 12 0a6 6 0 1 0 -12 0M1009.7 321.3a6 6 0 1 0 12 0a6 6 0 1 0 -12 0M994.1 341.0a6 6 0 1 0 12 0a6 6 0 1 0 -12 0M1017.4 326.4a6 6 0 1 0 12 0a6 6 0 1 0 -12 0M1027.2 317.7a6 6 0 1 0 12 0a6 6 0 1 0 -12 0M1044.6 302.6a6 6 0 1 0 12 0a6 6 0 1 0 -12 0M1026.1 300.3a6 6 0 1 0 12 0a6 6 0 1 0 -12 0M1045.1 301.5a6 6 0 1 0 12 0a6 6 0 1 0 -12 0M1049.5 287.8a6 6 0 1 0 12 0a6 6 0 1 0 -12 0M1030.4 297.4a6 6 0 1 0 12 0a6 6 0 1 0 -12 0M1042.2 294.9a6 6 0 1 0 12 0a6 6 0 1 0 -12 0M987.5 334.8a6 6 0 1 0 12 0a6 6 0 1 0 -12 0M1044.4 302.8a6 6 0 1 0 12 0a6 6 0 1 0 -12 0M967.9 371.2a6 6 0 1 0 12 0a6 6 0 1 0 -12 0M1000.0 324.9a6 6 0 1 0 12 0a6 6 0 1 0 -12 0M988.4 350.9a6 6 0 1 0 12 0a6 6 0 1 0 -12 0M1046.3 278.3a6 6 0 1 0 12 0a6 6 0 1 0 -12 0M1020.5 302.9a6 6 0 1 0 12 0a6 6 0 1 0 -12 0M1030.8 299.9a6 6 0 1 0 12 0a6 6 0 1 0 -12 0M1047.1 300.0a6 6 0 1 0 12 0a6 6 0 1 0 -12 0M1009.5 336.2a6 6 0 1 0 12 0a6 6 0 1 0 -12 0M990.0 332.8a6 6 0 1 0 12 0a6 6 0 1 0 -12 0M1019.0 304.0a6 6 0 1 0 12 0a6 6 0 1 0 -12 0M978.7 351.4a6 6 0 1 0 12 0a6 6 0 1 0 -12 0M1020.0 306.0a6 6 0 1 0 12 0a6 6 0 1 0 -12 0M963.2 377.2a6 6 0 1 0 12 0a6 6 0 1 0 -12 0M990.4 353.5a6 6 0 1 0 12 0a6 6 0 1 0 -12 0M1048.7 284.0a6 6 0 1 0 12 0a6 6 0 1 0 -12 0M1005.0 329.0a6 6 0 1 0 12 0a6 6 0 1 0 -12 0M1023.4 313.3a6 6 0 1 0 12 0a6 6 0 1 0 -12 0M1014.9 322.0a6 6 0 1 0 12 0a6 6 0 1 0 -12 0M1053.1 282.9a6 6 0 1 0 12 0a6 6 0 1 0 -12 0M1002.1 336.6a6 6 0 1 0 12 0a6 6 0 1 0 -12 0M982.8 345.0a6 6 0 1 0 12 0a6 6 0 1 0 -12 0M1056.8 279.7a6 6 0 1 0 12 0a6 6 0 1 0 -12 0M1013.8 308.4a6 6 0 1 0 12 0a6 6 0 1 0 -12 0M1000.5 334.8a6 6 0 1 0 12 0a6 6 0 1 0 -12 0M961.0 373.3a6 6 0 1 0 12 0a6 6 0 1 0 -12 0M1022.2 301.6a6 6 0 1 0 12 0a6 6 0 1 0 -12 0M1021.7 311.8a6 6 0 1 0 12 0a6 6 0 1 0 -12 0M1026.9 304.1a6 6 0 1 0 12 0a6 6 0 1 0 -12 0M1029.7 310.7a6 6 0 1 0 12 0a6 6 0 1 0 -12 0M961.2 359.8a6 6 0 1 0 12 0a6 6 0 1 0 -12 0M1026.6 319.1a6 6 0 1 0 12 0a6 6 0 1 0 -12 0M984.1 347.4a6 6 0 1 0 12 0a6 6 0 1 0 -12 0M1018.3 311.6a6 6 0 1 0 12 0a6 6 0 1 0 -12 0M995.4 333.2a6 6 0 1 0 12 0a6 6 0 1 0 -12 0M995.9 339.5a6 6 0 1 0 12 0a6 6 0 1 0 -12 0M989.0 340.8a6 6 0 1 0 12 0a6 6 0 1 0 -12 0M1036.2 287.4a6 6 0 1 0 12 0a6 6 0 1 0 -12 0M1015.9 323.8a6 6 0 1 0 12 0a6 6 0 1 0 -12 0M990.0 336.2a6 6 0 1 0 12 0a6 6 0 1 0 -12 0M1039.4 289.5a6 6 0 1 0 12 0a6 6 0 1 0 -12 0M977.7 353.0a6 6 0 1 0 12 0a6 6 0 1 0 -12 0M1028.8 296.3a6 6 0 1 0 12 0a6 6 0 1 0 -12 0M991.2 337.7a6 6 0 1 0 12 0a6 6 0 1 0 -12 0M1042.4 291.5a6 6 0 1 0 12 0a6 6 0 1 0 -12 0M1044.6 282.9a6 6 0 1 0 12 0a6 6 0 1 0 -12 0M992.7 343.9a6 6 0 1 0 12 0a6 6 0 1 0 -12 0M1047.5 286.9a6 6 0 1 0 12 0a6 6 0 1 0 -12 0M981.5 341.9a6 6 0 1 0 12 0a6 6 0 1 0 -12 0M1012.0 314.5a6 6 0 1 0 12 0a6 6 0 1 0 -12 0M1039.7 303.6a6 6 0 1 0 12 0a6 6 0 1 0 -12 0M977.4 349.6a6 6 0 1 0 12 0a6 6 0 1 0 -12 0M1039.7 298.9a6 6 0 1 0 12 0a6 6 0 1 0 -12 0M1039.6 291.8a6 6 0 1 0 12 0a6 6 0 1 0 -12 0M972.0 355.1a6 6 0 1 0 12 0a6 6 0 1 0 -12 0M1038.4 291.2a6 6 0 1 0 12 0a6 6 0 1 0 -12 0M993.6 337.4a6 6 0 1 0 12 0a6 6 0 1 0 -12 0M1001.0 330.2a6 6 0 1 0 12 0a6 6 0 1 0 -12 0M1051.1 276.4a6 6 0 1 0 12 0a6 6 0 1 0 -12 0M959.5 382.6a6 6 0 1 0 12 0a6 6 0 1 0 -12 0M1047.0 300.2a6 6 0 1 0 12 0a6 6 0 1 0 -12 0M1002.4 341.8a6 6 0 1 0 12 0a6 6 0 1 0 -12 0M1051.7 277.3a6 6 0 1 0 12 0a6 6 0 1 0 -12 0M1033.6 309.4a6 6 0 1 0 12 0a6 6 0 1 0 -12 0M1025.3 309.7a6 6 0 1 0 12 0a6 6 0 1 0 -12 0M987.9 341.1a6 6 0 1 0 12 0a6 6 0 1 0 -12 0M981.7 340.4a6 6 0 1 0 12 0a6 6 0 1 0 -12 0M1017.9 311.2a6 6 0 1 0 12 0a6 6 0 1 0 -12 0M1040.0 284.3a6 6 0 1 0 12 0a6 6 0 1 0 -12 0M1049.4 290.9a6 6 0 1 0 12 0a6 6 0 1 0 -12 0M1051.4 293.9a6 6 0 1 0 12 0a6 6 0 1 0 -12 0M1049.0 288.5a6 6 0 1 0 12 0a6 6 0 1 0 -12 0M960.3 377.1a6 6 0 1 0 12 0a6 6 0 1 0 -12 0M976.2 351.2a6 6 0 1 0 12 0a6 6 0 1 0 -12 0M1025.3 309.8a6 6 0 1 0 12 0a6 6 0 1 0 -12 0M1000.4 343.5a6 6 0 1 0 12 0a6 6 0 1 0 -12 0M1020.2 310.3a6 6 0 1 0 12 0a6 6 0 1 0 -12 0M1016.7 362.9a6 6 0 1 0 12 0a6 6 0 1 0 -12 0M1036.9 342.7a6 6 0 1 0 12 0a6 6 0 1 0 -12 0M1025.7 347.0a6 6 0 1 0 12 0a6 6 0 1 0 -12 0M1042.1 338.2a6 6 0 1 0 12 0a6 6 0 1 0 -12 0M1009.4 369.1a6 6 0 1 0 12 0a6 6 0 1 0 -12 0M1077.0 304.8a6 6 0 1 0 12 0a6 6 0 1 0 -12 0M1068.1 304.5a6 6 0 1 0 12 0a6 6 0 1 0 -12 0M1050.6 330.6a6 6 0 1 0 12 0a6 6 0 1 0 -12 0M998.5 373.8a6 6 0 1 0 12 0a6 6 0 1 0 -12 0M1018.2 357.8a6 6 0 1 0 12 0a6 6 0 1 0 -12 0M1032.1 344.0a6 6 0 1 0 12 0a6 6 0 1 0 -12 0M1063.9 308.4a6 6 0 1 0 12 0a6 6 0 1 0 -12 0M998.9 371.8a6 6 0 1 0 12 0a6 6 0 1 0 -12 0M1005.2 365.1a6 6 0 1 0 12 0a6 6 0 1 0 -12 0M1081.7 300.8a6 6 0 1 0 12 0a6 6 0 1 0 -12 0M1001.8 373.2a6 6 0 1 0 12 0a6 6 0 1 0 -12 0M1022.4 351.4a6 6 0 1 0 12 0a6 6 0 1 0 -12 0M1025.6 352.0a6 6 0 1 0 12 0a6 6 0 1 0 -12 0M1046.8 328.7a6 6 0 1 0 12 0a6 6 0 1 0 -12 0M1011.2 362.3a6 6 0 1 0 12 0a6 6 0 1 0 -12 0M1005.1 370.6a6 6 0 1 0 12 0a6 6 0 1 0 -12 0M1058.4 317.8a6 6 0 1 0 12 0a6 6 0 1 0 -12 0M1001.2 370.2a6 6 0 1 0 12 0a6 6 0 1 0 -12 0M1027.6 349.7a6 6 0 1 0 12 0a6 6 0 1 0 -12 0M1064.4 312.1a6 6 0 1 0 12 0a6 6 0 1 0 -12 0M831.0 489.8a6 6 0 1 0 12 0a6 6 0 1 0 -12 0M814.7 514.7a6 6 0 1 0 12 0a6 6 0 1 0 -12 0M815.1 521.2a6 6 0 1 0 12 0a6 6 0 1 0 -12 0M836.1 514.0a6 6 0 1 0 12 0a6 6 0 1 0 -12 0M846.2 522.0a6 6 0 1 0 12 0a6 6 0 1 0 -12 0M862.9 494.5a6 6 0 1 0 12 0a6 6 0 1 0 -12 0M862.1 519.1a6 6 0 1 0 12 0a6 6 0 1 0 -12 0M882.4 506.0a6 6 0 1 0 12 0a6 6 0 1 0 -12 0M795.6 584.9a6 6 0 1 0 12 0a6 6 0 1 0 -12 0M891.2 411.1a6 6 0 1 0 12 0a6 6 0 1 0 -12 0M886.4 426.2a6 6 0 1 0 12 0a6 6 0 1 0 -12 0M897.2 426.2a6 6 0 1 0 12 0a6 6 0 1 0 -12 0M899.6 429.8a6 6 0 1 0 12 0a6 6 0 1 0 -12 0M903.3 431.6a6 6 0 1 0 12 0a6 6 0 1 0 -12 0M911.7 417.7a6 6 0 1 0 12 0a6 6 0 1 0 -12 0M849.0 455.1a6 6 0 1 0 12 0a6 6 0 1 0 -12 0M846.0 459.4a6 6 0 1 0 12 0a6 6 0 1 0 -12 0M862.9 466.6a6 6 0 1 0 12 0a6 6 0 1 0 -12 0M870.7 472.0a6 6 0 1 0 12 0a6 6 0 1 0 -12 0M882.2 458.8a6 6 0 1 0 12 0a6 6 0 1 0 -12 0M884.0 474.4a6 6 0 1 0 12 0a6 6 0 1 0 -12 0M889.4 473.2a6 6 0 1 0 12 0a6 6 0 1 0 -12 0M903.9 477.5a6 6 0 1 0 12 0a6 6 0 1 0 -12 0M911.7 453.9a6 6 0 1 0 12 0a6 6 0 1 0 -12 0M909.3 466.0a6 6 0 1 0 12 0a6 6 0 1 0 -12 0M863.5 490.0a6 6 0 1 0 12 0a6 6 0 1 0 -12 0M914.2 454.5a6 6 0 1 0 12 0a6 6 0 1 0 -12 0M909.3 467.7a6 6 0 1 0 12 0a6 6 0 1 0 -12 0M891.2 472.6a6 6 0 1 0 12 0a6 6 0 1 0 -12 0M886.4 475.0a6 6 0 1 0 12 0a6 6 0 1 0 -12 0M932.9 456.3a6 6 0 1 0 12 0a6 6 0 1 0 -12 0M951.6 456.3a6 6 0 1 0 12 0a6 6 0 1 0 -12 0M957.6 440.6a6 6 0 1 0 12 0a6 6 0 1 0 -12 0M885.2 456.9a6 6 0 1 0 12 0a6 6 0 1 0 -12 0M918.6 372.6a6 6 0 1 0 12 0a6 6 0 1 0 -12 0M896.9 424.4a6 6 0 1 0 12 0a6 6 0 1 0 -12 0M901.7 429.3a6 6 0 1 0 12 0a6 6 0 1 0 -12 0M913.8 417.2a6 6 0 1 0 12 0a6 6 0 1 0 -12 0M924.7 407.6a6 6 0 1 0 12 0a6 6 0 1 0 -12 0M927.1 405.1a6 6 0 1 0 12 0a6 6 0 1 0 -12 0M912.6 414.8a6 6 0 1 0 12 0a6 6 0 1 0 -12 0M921.0 419.6a6 6 0 1 0 12 0a6 6 0 1 0 -12 0M939.1 393.1a6 6 0 1 0 12 0a6 6 0 1 0 -12 0M946.4 379.8a6 6 0 1 0 12 0a6 6 0 1 0 -12 0M952.4 370.2a6 6 0 1 0 12 0a6 6 0 1 0 -12 0M965.7 360.5a6 6 0 1 0 12 0a6 6 0 1 0 -12 0M970.5 341.2a6 6 0 1 0 12 0a6 6 0 1 0 -12 0M953.6 422.0a6 6 0 1 0 12 0a6 6 0 1 0 -12 0M960.9 431.7a6 6 0 1 0 12 0a6 6 0 1 0 -12 0M941.6 436.5a6 6 0 1 0 12 0a6 6 0 1 0 -12 0M972.1 337.6a6 6 0 1 0 12 0a6 6 0 1 0 -12 0M1007.1 309.9a6 6 0 1 0 12 0a6 6 0 1 0 -12 0M1016.7 290.6a6 6 0 1 0 12 0a6 6 0 1 0 -12 0M1038.4 352.7a6 6 0 1 0 12 0a6 6 0 1 0 -12 0M1049.3 347.9a6 6 0 1 0 12 0a6 6 0 1 0 -12 0M1030.0 362.4a6 6 0 1 0 12 0a6 6 0 1 0 -12 0M1016.7 374.4a6 6 0 1 0 12 0a6 6 0 1 0 -12 0M1011.9 379.3a6 6 0 1 0 12 0a6 6 0 1 0 -12 0M1021.6 369.6a6 6 0 1 0 12 0a6 6 0 1 0 -12 0M963.7 357.6a6 6 0 1 0 12 0a6 6 0 1 0 -12 0M1074.1 239.3a6 6 0 1 0 12 0a6 6 0 1 0 -12 0M1080.7 247.7a6 6 0 1 0 12 0a6 6 0 1 0 -12 0M1075.9 259.8a6 6 0 1 0 12 0a6 6 0 1 0 -12 0M1089.1 255.0a6 6 0 1 0 12 0a6 6 0 1 0 -12 0M1096.4 238.1a6 6 0 1 0 12 0a6 6 0 1 0 -12 0M1102.4 230.9a6 6 0 1 0 12 0a6 6 0 1 0 -12 0M1108.4 226.0a6 6 0 1 0 12 0a6 6 0 1 0 -12 0M1115.7 232.1a6 6 0 1 0 12 0a6 6 0 1 0 -12 0M1098.8 247.7a6 6 0 1 0 12 0a6 6 0 1 0 -12 0M1102.4 262.2a6 6 0 1 0 12 0a6 6 0 1 0 -12 0M1115.7 255.0a6 6 0 1 0 12 0a6 6 0 1 0 -12 0M1120.5 251.4a6 6 0 1 0 12 0a6 6 0 1 0 -12 0M1122.9 270.7a6 6 0 1 0 12 0a6 6 0 1 0 -12 0M1087.9 286.3a6 6 0 1 0 12 0a6 6 0 1 0 -12 0M1096.4 299.6a6 6 0 1 0 12 0a6 6 0 1 0 -12 0M1081.9 298.4a6 6 0 1 0 12 0a6 6 0 1 0 -12 0M1079.5 315.3a6 6 0 1 0 12 0a6 6 0 1 0 -12 0M1051.7 279.1a6 6 0 1 0 12 0a6 6 0 1 0 -12 0M1043.3 287.6a6 6 0 1 0 12 0a6 6 0 1 0 -12 0M1060.2 271.9a6 6 0 1 0 12 0a6 6 0 1 0 -12 0M1107.5 224.3a6 6 0 1 0 12 0a6 6 0 1 0 -12 0M1111.7 229.1a6 6 0 1 0 12 0a6 6 0 1 0 -12 0M1102.1 233.9a6 6 0 1 0 12 0a6 6 0 1 0 -12 0M1125.0 230.3a6 6 0 1 0 12 0a6 6 0 1 0 -12 0M1135.9 232.7a6 6 0 1 0 12 0a6 6 0 1 0 -12 0M1129.8 248.4a6 6 0 1 0 12 0a6 6 0 1 0 -12 0M1116.6 254.4a6 6 0 1 0 12 0a6 6 0 1 0 -12 0M1113.0 246.0a6 6 0 1 0 12 0a6 6 0 1 0 -12 0M1097.3 247.2a6 6 0 1 0 12 0a6 6 0 1 0 -12 0M1096.1 254.4a6 6 0 1 0 12 0a6 6 0 1 0 -12 0M1103.3 260.5a6 6 0 1 0 12 0a6 6 0 1 0 -12 0M1126.2 266.5a6 6 0 1 0 12 0a6 6 0 1 0 -12 0M1097.3 241.2a6 6 0 1 0 12 0a6 6 0 1 0 -12 0M1101.2 262.1a6 6 0 1 0 12 0a6 6 0 1 0 -12 0M1074.2 355.1a6 6 0 1 0 12 0a6 6 0 1 0 -12 0M1051.9 346.0a6 6 0 1 0 12 0a6 6 0 1 0 -12 0M1015.7 378.6a6 6 0 1 0 12 0a6 6 0 1 0 -12 0M1000.0 393.1a6 6 0 1 0 12 0a6 6 0 1 0 -12 0M1020.5 372.6a6 6 0 1 0 12 0a6 6 0 1 0 -12 0M994.0 405.1a6 6 0 1 0 12 0a6 6 0 1 0 -12 0M953.9 422.9a6 6 0 1 0 12 0a6 6 0 1 0 -12 0M967.8 418.1a6 6 0 1 0 12 0a6 6 0 1 0 -12 0M961.7 430.2a6 6 0 1 0 12 0a6 6 0 1 0 -12 0M957.5 436.2a6 6 0 1 0 12 0a6 6 0 1 0 -12 0M989.5 405.4a6 6 0 1 0 12 0a6 6 0 1 0 -12 0M979.8 407.2a6 6 0 1 0 12 0a6 6 0 1 0 -12 0M952.1 456.7a6 6 0 1 0 12 0a6 6 0 1 0 -12 0M941.2 436.2a6 6 0 1 0 12 0a6 6 0 1 0 -12 0M989.8 326.3a6 6 0 1 0 12 0a6 6 0 1 0 -12 0M940.6 392.9a6 6 0 1 0 12 0a6 6 0 1 0 -12 0M952.2 368.3a6 6 0 1 0 12 0a6 6 0 1 0 -12 0M944.9 381.3a6 6 0 1 0 12 0a6 6 0 1 0 -12 0M963.7 356.7a6 6 0 1 0 12 0a6 6 0 1 0 -12 0M1016.2 286.1a6 6 0 1 0 12 0a6 6 0 1 0 -12 0M1006.6 310.2a6 6 0 1 0 12 0a6 6 0 1 0 -12 0M1072.9 240.3a6 6 0 1 0 12 0a6 6 0 1 0 -12 0M1072.9 261.4a6 6 0 1 0 12 0a6 6 0 1 0 -12 0M1053.6 280.7a6 6 0 1 0 12 0a6 6 0 1 0 -12 0M1042.8 286.7a6 6 0 1 0 12 0a6 6 0 1 0 -12 0M1060.9 275.8a6 6 0 1 0 12 0a6 6 0 1 0 -12 0M1021.0 298.8a6 6 0 1 0 12 0a6 6 0 1 0 -12 0" fill="none" stroke="#FF7F00" stroke-width="2.6"/>
<path d="M852.0 501.0a3.8 3.8 0 1 0 7.6 0a3.8 3.8 0 1 0 -7.6 0M839.7 516.9a3.8 3.8 0 1 0 7.6 0a3.8 3.8 0 1 0 -7.6 0M836.1 529.2a3.8 3.8 0 1 0 7.6 0a3.8 3.8 0 1 0 -7.6 0M826.0 542.5a3.8 3.8 0 1 0 7.6 0a3.8 3.8 0 1 0 -7.6 0M855.7 488.0a3.8 3.8 0 1 0 7.6 0a3.8 3.8 0 1 0 -7.6 0M878.8 485.8a3.8 3.8 0 1 0 7.6 0a3.8 3.8 0 1 0 -7.6 0M874.5 495.9a3.8 3.8 0 1 0 7.6 0a3.8 3.8 0 1 0 -7.6 0M867.2 506.8a3.8 3.8 0 1 0 7.6 0a3.8 3.8 0 1 0 -7.6 0M865.1 516.2a3.8 3.8 0 1 0 7.6 0a3.8 3.8 0 1 0 -7.6 0M883.2 506.0a3.8 3.8 0 1 0 7.6 0a3.8 3.8 0 1 0 -7.6 0M891.6 412.3a3.8 3.8 0 1 0 7.6 0a3.8 3.8 0 1 0 -7.6 0M871.7 444.9a3.8 3.8 0 1 0 7.6 0a3.8 3.8 0 1 0 -7.6 0M884.4 444.3a3.8 3.8 0 1 0 7.6 0a3.8 3.8 0 1 0 -7.6 0M894.6 437.6a3.8 3.8 0 1 0 7.6 0a3.8 3.8 0 1 0 -7.6 0M900.6 440.7a3.8 3.8 0 1 0 7.6 0a3.8 3.8 0 1 0 -7.6 0M907.9 440.7a3.8 3.8 0 1 0 7.6 0a3.8 3.8 0 1 0 -7.6 0M903.1 449.1a3.8 3.8 0 1 0 7.6 0a3.8 3.8 0 1 0 -7.6 0M913.9 437.0a3.8 3.8 0 1 0 7.6 0a3.8 3.8 0 1 0 -7.6 0M861.4 457.0a3.8 3.8 0 1 0 7.6 0a3.8 3.8 0 1 0 -7.6 0M883.1 460.0a3.8 3.8 0 1 0 7.6 0a3.8 3.8 0 1 0 -7.6 0M895.2 460.6a3.8 3.8 0 1 0 7.6 0a3.8 3.8 0 1 0 -7.6 0M905.5 460.0a3.8 3.8 0 1 0 7.6 0a3.8 3.8 0 1 0 -7.6 0M910.3 455.1a3.8 3.8 0 1 0 7.6 0a3.8 3.8 0 1 0 -7.6 0M862.0 478.1a3.8 3.8 0 1 0 7.6 0a3.8 3.8 0 1 0 -7.6 0M873.5 474.4a3.8 3.8 0 1 0 7.6 0a3.8 3.8 0 1 0 -7.6 0M878.9 485.3a3.8 3.8 0 1 0 7.6 0a3.8 3.8 0 1 0 -7.6 0M856.0 487.7a3.8 3.8 0 1 0 7.6 0a3.8 3.8 0 1 0 -7.6 0M891.0 473.2a3.8 3.8 0 1 0 7.6 0a3.8 3.8 0 1 0 -7.6 0M906.7 479.3a3.8 3.8 0 1 0 7.6 0a3.8 3.8 0 1 0 -7.6 0M913.9 467.2a3.8 3.8 0 1 0 7.6 0a3.8 3.8 0 1 0 -7.6 0M898.2 446.7a3.8 3.8 0 1 0 7.6 0a3.8 3.8 0 1 0 -7.6 0M893.4 453.9a3.8 3.8 0 1 0 7.6 0a3.8 3.8 0 1 0 -7.6 0M888.6 464.8a3.8 3.8 0 1 0 7.6 0a3.8 3.8 0 1 0 -7.6 0M901.8 487.7a3.8 3.8 0 1 0 7.6 0a3.8 3.8 0 1 0 -7.6 0M920.6 447.2a3.8 3.8 0 1 0 7.6 0a3.8 3.8 0 1 0 -7.6 0M930.8 444.8a3.8 3.8 0 1 0 7.6 0a3.8 3.8 0 1 0 -7.6 0M904.3 447.2a3.8 3.8 0 1 0 7.6 0a3.8 3.8 0 1 0 -7.6 0M901.9 450.9a3.8 3.8 0 1 0 7.6 0a3.8 3.8 0 1 0 -7.6 0M907.9 455.7a3.8 3.8 0 1 0 7.6 0a3.8 3.8 0 1 0 -7.6 0M895.9 460.5a3.8 3.8 0 1 0 7.6 0a3.8 3.8 0 1 0 -7.6 0M906.7 460.5a3.8 3.8 0 1 0 7.6 0a3.8 3.8 0 1 0 -7.6 0M923.6 461.7a3.8 3.8 0 1 0 7.6 0a3.8 3.8 0 1 0 -7.6 0M918.8 470.2a3.8 3.8 0 1 0 7.6 0a3.8 3.8 0 1 0 -7.6 0M920.6 478.6a3.8 3.8 0 1 0 7.6 0a3.8 3.8 0 1 0 -7.6 0M906.7 478.6a3.8 3.8 0 1 0 7.6 0a3.8 3.8 0 1 0 -7.6 0M901.9 490.1a3.8 3.8 0 1 0 7.6 0a3.8 3.8 0 1 0 -7.6 0M916.4 490.1a3.8 3.8 0 1 0 7.6 0a3.8 3.8 0 1 0 -7.6 0M918.8 487.6a3.8 3.8 0 1 0 7.6 0a3.8 3.8 0 1 0 -7.6 0M926.0 489.5a3.8 3.8 0 1 0 7.6 0a3.8 3.8 0 1 0 -7.6 0M923.0 499.1a3.8 3.8 0 1 0 7.6 0a3.8 3.8 0 1 0 -7.6 0M934.5 499.1a3.8 3.8 0 1 0 7.6 0a3.8 3.8 0 1 0 -7.6 0M942.3 510.0a3.8 3.8 0 1 0 7.6 0a3.8 3.8 0 1 0 -7.6 0M941.7 472.6a3.8 3.8 0 1 0 7.6 0a3.8 3.8 0 1 0 -7.6 0M943.5 459.9a3.8 3.8 0 1 0 7.6 0a3.8 3.8 0 1 0 -7.6 0M946.5 445.4a3.8 3.8 0 1 0 7.6 0a3.8 3.8 0 1 0 -7.6 0M888.6 493.1a3.8 3.8 0 1 0 7.6 0a3.8 3.8 0 1 0 -7.6 0M910.3 441.2a3.8 3.8 0 1 0 7.6 0a3.8 3.8 0 1 0 -7.6 0M886.2 444.8a3.8 3.8 0 1 0 7.6 0a3.8 3.8 0 1 0 -7.6 0M955.0 452.1a3.8 3.8 0 1 0 7.6 0a3.8 3.8 0 1 0 -7.6 0M947.4 345.4a3.8 3.8 0 1 0 7.6 0a3.8 3.8 0 1 0 -7.6 0M952.2 351.5a3.8 3.8 0 1 0 7.6 0a3.8 3.8 0 1 0 -7.6 0M943.8 349.7a3.8 3.8 0 1 0 7.6 0a3.8 3.8 0 1 0 -7.6 0M960.6 350.3a3.8 3.8 0 1 0 7.6 0a3.8 3.8 0 1 0 -7.6 0M936.5 355.7a3.8 3.8 0 1 0 7.6 0a3.8 3.8 0 1 0 -7.6 0M934.1 359.9a3.8 3.8 0 1 0 7.6 0a3.8 3.8 0 1 0 -7.6 0M940.1 363.5a3.8 3.8 0 1 0 7.6 0a3.8 3.8 0 1 0 -7.6 0M943.8 368.3a3.8 3.8 0 1 0 7.6 0a3.8 3.8 0 1 0 -7.6 0M932.9 371.4a3.8 3.8 0 1 0 7.6 0a3.8 3.8 0 1 0 -7.6 0M936.5 376.2a3.8 3.8 0 1 0 7.6 0a3.8 3.8 0 1 0 -7.6 0M916.0 386.4a3.8 3.8 0 1 0 7.6 0a3.8 3.8 0 1 0 -7.6 0M941.3 383.4a3.8 3.8 0 1 0 7.6 0a3.8 3.8 0 1 0 -7.6 0M928.1 408.8a3.8 3.8 0 1 0 7.6 0a3.8 3.8 0 1 0 -7.6 0M938.9 412.4a3.8 3.8 0 1 0 7.6 0a3.8 3.8 0 1 0 -7.6 0M943.8 417.2a3.8 3.8 0 1 0 7.6 0a3.8 3.8 0 1 0 -7.6 0M946.2 411.2a3.8 3.8 0 1 0 7.6 0a3.8 3.8 0 1 0 -7.6 0M936.5 422.0a3.8 3.8 0 1 0 7.6 0a3.8 3.8 0 1 0 -7.6 0M924.5 430.5a3.8 3.8 0 1 0 7.6 0a3.8 3.8 0 1 0 -7.6 0M926.9 426.9a3.8 3.8 0 1 0 7.6 0a3.8 3.8 0 1 0 -7.6 0M934.1 434.1a3.8 3.8 0 1 0 7.6 0a3.8 3.8 0 1 0 -7.6 0M906.4 422.0a3.8 3.8 0 1 0 7.6 0a3.8 3.8 0 1 0 -7.6 0M970.3 353.3a3.8 3.8 0 1 0 7.6 0a3.8 3.8 0 1 0 -7.6 0M948.6 424.4a3.8 3.8 0 1 0 7.6 0a3.8 3.8 0 1 0 -7.6 0M947.4 426.9a3.8 3.8 0 1 0 7.6 0a3.8 3.8 0 1 0 -7.6 0M996.6 310.5a3.8 3.8 0 1 0 7.6 0a3.8 3.8 0 1 0 -7.6 0M970.7 325.0a3.8 3.8 0 1 0 7.6 0a3.8 3.8 0 1 0 -7.6 0M977.9 328.6a3.8 3.8 0 1 0 7.6 0a3.8 3.8 0 1 0 -7.6 0M985.2 325.0a3.8 3.8 0 1 0 7.6 0a3.8 3.8 0 1 0 -7.6 0M959.8 350.3a3.8 3.8 0 1 0 7.6 0a3.8 3.8 0 1 0 -7.6 0M968.3 357.6a3.8 3.8 0 1 0 7.6 0a3.8 3.8 0 1 0 -7.6 0M974.3 350.3a3.8 3.8 0 1 0 7.6 0a3.8 3.8 0 1 0 -7.6 0M1045.5 362.4a3.8 3.8 0 1 0 7.6 0a3.8 3.8 0 1 0 -7.6 0M1044.3 378.7a3.8 3.8 0 1 0 7.6 0a3.8 3.8 0 1 0 -7.6 0M1049.1 382.9a3.8 3.8 0 1 0 7.6 0a3.8 3.8 0 1 0 -7.6 0M1012.9 302.1a3.8 3.8 0 1 0 7.6 0a3.8 3.8 0 1 0 -7.6 0M974.3 339.5a3.8 3.8 0 1 0 7.6 0a3.8 3.8 0 1 0 -7.6 0M1052.7 341.9a3.8 3.8 0 1 0 7.6 0a3.8 3.8 0 1 0 -7.6 0M1064.8 252.6a3.8 3.8 0 1 0 7.6 0a3.8 3.8 0 1 0 -7.6 0M1063.6 261.0a3.8 3.8 0 1 0 7.6 0a3.8 3.8 0 1 0 -7.6 0M1044.3 270.7a3.8 3.8 0 1 0 7.6 0a3.8 3.8 0 1 0 -7.6 0M1028.6 273.7a3.8 3.8 0 1 0 7.6 0a3.8 3.8 0 1 0 -7.6 0M1070.2 265.8a3.8 3.8 0 1 0 7.6 0a3.8 3.8 0 1 0 -7.6 0M1068.4 273.1a3.8 3.8 0 1 0 7.6 0a3.8 3.8 0 1 0 -7.6 0M1114.3 279.1a3.8 3.8 0 1 0 7.6 0a3.8 3.8 0 1 0 -7.6 0M1120.3 295.4a3.8 3.8 0 1 0 7.6 0a3.8 3.8 0 1 0 -7.6 0M1101.0 280.3a3.8 3.8 0 1 0 7.6 0a3.8 3.8 0 1 0 -7.6 0M1097.4 282.7a3.8 3.8 0 1 0 7.6 0a3.8 3.8 0 1 0 -7.6 0M1093.8 299.6a3.8 3.8 0 1 0 7.6 0a3.8 3.8 0 1 0 -7.6 0M1114.3 234.5a3.8 3.8 0 1 0 7.6 0a3.8 3.8 0 1 0 -7.6 0M1115.5 261.0a3.8 3.8 0 1 0 7.6 0a3.8 3.8 0 1 0 -7.6 0M1098.6 220.0a3.8 3.8 0 1 0 7.6 0a3.8 3.8 0 1 0 -7.6 0M1035.9 292.4a3.8 3.8 0 1 0 7.6 0a3.8 3.8 0 1 0 -7.6 0M1148.3 201.1a3.8 3.8 0 1 0 7.6 0a3.8 3.8 0 1 0 -7.6 0M1099.5 218.3a3.8 3.8 0 1 0 7.6 0a3.8 3.8 0 1 0 -7.6 0M1127.8 230.3a3.8 3.8 0 1 0 7.6 0a3.8 3.8 0 1 0 -7.6 0M1133.8 251.4a3.8 3.8 0 1 0 7.6 0a3.8 3.8 0 1 0 -7.6 0M1115.2 260.5a3.8 3.8 0 1 0 7.6 0a3.8 3.8 0 1 0 -7.6 0M1113.9 235.1a3.8 3.8 0 1 0 7.6 0a3.8 3.8 0 1 0 -7.6 0M1106.7 259.3a3.8 3.8 0 1 0 7.6 0a3.8 3.8 0 1 0 -7.6 0M1136.6 277.7a3.8 3.8 0 1 0 7.6 0a3.8 3.8 0 1 0 -7.6 0M1141.4 281.4a3.8 3.8 0 1 0 7.6 0a3.8 3.8 0 1 0 -7.6 0M1103.4 279.0a3.8 3.8 0 1 0 7.6 0a3.8 3.8 0 1 0 -7.6 0M1149.7 157.5a3.8 3.8 0 1 0 7.6 0a3.8 3.8 0 1 0 -7.6 0M1224.2 156.5a3.8 3.8 0 1 0 7.6 0a3.8 3.8 0 1 0 -7.6 0M1222.9 183.2a3.8 3.8 0 1 0 7.6 0a3.8 3.8 0 1 0 -7.6 0M1222.9 186.2a3.8 3.8 0 1 0 7.6 0a3.8 3.8 0 1 0 -7.6 0M1011.9 399.1a3.8 3.8 0 1 0 7.6 0a3.8 3.8 0 1 0 -7.6 0M1054.1 341.2a3.8 3.8 0 1 0 7.6 0a3.8 3.8 0 1 0 -7.6 0M1012.2 400.6a3.8 3.8 0 1 0 7.6 0a3.8 3.8 0 1 0 -7.6 0M976.0 435.0a3.8 3.8 0 1 0 7.6 0a3.8 3.8 0 1 0 -7.6 0M971.2 436.2a3.8 3.8 0 1 0 7.6 0a3.8 3.8 0 1 0 -7.6 0M983.2 413.9a3.8 3.8 0 1 0 7.6 0a3.8 3.8 0 1 0 -7.6 0M955.5 456.7a3.8 3.8 0 1 0 7.6 0a3.8 3.8 0 1 0 -7.6 0M943.4 414.5a3.8 3.8 0 1 0 7.6 0a3.8 3.8 0 1 0 -7.6 0M938.6 420.5a3.8 3.8 0 1 0 7.6 0a3.8 3.8 0 1 0 -7.6 0M947.1 425.3a3.8 3.8 0 1 0 7.6 0a3.8 3.8 0 1 0 -7.6 0M942.2 472.4a3.8 3.8 0 1 0 7.6 0a3.8 3.8 0 1 0 -7.6 0M943.4 460.3a3.8 3.8 0 1 0 7.6 0a3.8 3.8 0 1 0 -7.6 0M948.3 407.2a3.8 3.8 0 1 0 7.6 0a3.8 3.8 0 1 0 -7.6 0M954.3 403.6a3.8 3.8 0 1 0 7.6 0a3.8 3.8 0 1 0 -7.6 0M994.9 310.4a3.8 3.8 0 1 0 7.6 0a3.8 3.8 0 1 0 -7.6 0M973.2 339.4a3.8 3.8 0 1 0 7.6 0a3.8 3.8 0 1 0 -7.6 0M939.9 382.8a3.8 3.8 0 1 0 7.6 0a3.8 3.8 0 1 0 -7.6 0M960.2 349.5a3.8 3.8 0 1 0 7.6 0a3.8 3.8 0 1 0 -7.6 0M965.9 348.0a3.8 3.8 0 1 0 7.6 0a3.8 3.8 0 1 0 -7.6 0M968.8 358.2a3.8 3.8 0 1 0 7.6 0a3.8 3.8 0 1 0 -7.6 0M957.3 369.8a3.8 3.8 0 1 0 7.6 0a3.8 3.8 0 1 0 -7.6 0M974.6 348.0a3.8 3.8 0 1 0 7.6 0a3.8 3.8 0 1 0 -7.6 0M1028.7 274.0a3.8 3.8 0 1 0 7.6 0a3.8 3.8 0 1 0 -7.6 0M1045.0 270.4a3.8 3.8 0 1 0 7.6 0a3.8 3.8 0 1 0 -7.6 0M1024.5 281.3a3.8 3.8 0 1 0 7.6 0a3.8 3.8 0 1 0 -7.6 0M1022.0 286.7a3.8 3.8 0 1 0 7.6 0a3.8 3.8 0 1 0 -7.6 0M996.1 310.8a3.8 3.8 0 1 0 7.6 0a3.8 3.8 0 1 0 -7.6 0M985.2 324.7a3.8 3.8 0 1 0 7.6 0a3.8 3.8 0 1 0 -7.6 0M978.6 327.7a3.8 3.8 0 1 0 7.6 0a3.8 3.8 0 1 0 -7.6 0M1064.9 252.3a3.8 3.8 0 1 0 7.6 0a3.8 3.8 0 1 0 -7.6 0M1064.9 261.4a3.8 3.8 0 1 0 7.6 0a3.8 3.8 0 1 0 -7.6 0M1069.1 265.6a3.8 3.8 0 1 0 7.6 0a3.8 3.8 0 1 0 -7.6 0M1036.5 292.7a3.8 3.8 0 1 0 7.6 0a3.8 3.8 0 1 0 -7.6 0M1013.6 301.2a3.8 3.8 0 1 0 7.6 0a3.8 3.8 0 1 0 -7.6 0M1017.2 310.8a3.8 3.8 0 1 0 7.6 0a3.8 3.8 0 1 0 -7.6 0" fill="#00C800"/>
<path d="M1053.0 313.4h10.4M1058.2 308.2v10.4M1003.1 354.2h10.4M1008.3 349.0v10.4M1011.8 354.8h10.4M1017.0 349.6v10.4M1001.6 364.3h10.4M1006.8 359.1v10.4M1007.0 347.0h10.4M1012.2 341.8v10.4M1017.1 349.5h10.4M1022.3 344.3v10.4M954.5 402.0h10.4M959.7 396.8v10.4M1002.3 368.7h10.4M1007.5 363.5v10.4M1071.2 289.3h10.4M1076.4 284.1v10.4M1066.0 305.5h10.4M1071.2 300.3v10.4M980.2 378.5h10.4M985.4 373.3v10.4M961.4 405.8h10.4M966.6 400.6v10.4M1034.2 338.4h10.4M1039.4 333.2v10.4M1051.8 315.7h10.4M1057.0 310.5v10.4M1043.9 320.5h10.4M1049.1 315.3v10.4M958.7 402.3h10.4M963.9 397.1v10.4M945.5 403.0h10.4M950.7 397.8v10.4M1049.3 301.3h10.4M1054.5 296.1v10.4M957.2 390.6h10.4M962.4 385.4v10.4M1063.7 291.2h10.4M1068.9 286.0v10.4M948.0 419.4h10.4M953.2 414.2v10.4M961.2 406.9h10.4M966.4 401.7v10.4M1035.7 335.6h10.4M1040.9 330.4v10.4M1073.4 292.8h10.4M1078.6 287.6v10.4M1052.6 297.9h10.4M1057.8 292.7v10.4M1048.4 314.8h10.4M1053.6 309.6v10.4M1041.3 310.6h10.4M1046.5 305.4v10.4M1045.9 328.6h10.4M1051.1 323.4v10.4M953.1 400.6h10.4M958.3 395.4v10.4M1020.9 349.5h10.4M1026.1 344.3v10.4M977.5 373.4h10.4M982.7 368.2v10.4M978.5 384.2h10.4M983.7 379.0v10.4M1046.5 313.4h10.4M1051.7 308.2v10.4M994.4 363.1h10.4M999.6 357.9v10.4M992.1 365.9h10.4M997.3 360.7v10.4M956.0 402.5h10.4M961.2 397.3v10.4M1076.2 285.6h10.4M1081.4 280.4v10.4M1045.7 307.9h10.4M1050.9 302.7v10.4M1038.1 331.2h10.4M1043.3 326.0v10.4M1035.8 327.0h10.4M1041.0 321.8v10.4M1010.1 354.8h10.4M1015.3 349.6v10.4M1065.9 288.2h10.4M1071.1 283.0v10.4M957.7 407.6h10.4M962.9 402.4v10.4M1068.5 295.7h10.4M1073.7 290.5v10.4M1004.6 362.1h10.4M1009.8 356.9v10.4M969.9 383.0h10.4M975.1 377.8v10.4M971.7 389.9h10.4M976.9 384.7v10.4M987.3 365.5h10.4M992.5 360.3v10.4M1038.1 336.5h10.4M1043.3 331.3v10.4M984.7 380.7h10.4M989.9 375.5v10.4M1000.6 369.6h10.4M1005.8 364.4v10.4M1023.7 331.7h10.4M1028.9 326.5v10.4M974.2 372.4h10.4M979.4 367.2v10.4M1009.5 348.3h10.4M1014.7 343.1v10.4M968.1 387.3h10.4M973.3 382.1v10.4M988.3 379.2h10.4M993.5 374.0v10.4M964.2 408.0h10.4M969.4 402.8v10.4M1009.5 354.2h10.4M1014.7 349.0v10.4M1008.0 362.0h10.4M1013.2 356.8v10.4M1055.7 309.0h10.4M1060.9 303.8v10.4M1009.8 357.2h10.4M1015.0 352.0v10.4M1060.4 300.3h10.4M1065.6 295.1v10.4M1043.8 331.2h10.4M1049.0 326.0v10.4M1007.9 345.8h10.4M1013.1 340.6v10.4M976.5 388.9h10.4M981.7 383.7v10.4M1036.0 338.7h10.4M1041.2 333.5v10.4M1060.1 296.4h10.4M1065.3 291.2v10.4M970.4 382.3h10.4M975.6 377.1v10.4M970.1 394.7h10.4M975.3 389.5v10.4M1060.7 313.5h10.4M1065.9 308.3v10.4M979.2 390.3h10.4M984.4 385.1v10.4M987.1 370.8h10.4M992.3 365.6v10.4M1043.2 308.2h10.4M1048.4 303.0v10.4M957.3 410.3h10.4M962.5 405.1v10.4M984.2 371.8h10.4M989.4 366.6v10.4M1023.1 343.3h10.4M1028.3 338.1v10.4M945.7 407.9h10.4M950.9 402.7v10.4M1003.7 356.7h10.4M1008.9 351.5v10.4M973.2 388.5h10.4M978.4 383.3v10.4M1073.8 287.3h10.4M1079.0 282.1v10.4M1018.3 332.9h10.4M1023.5 327.7v10.4M981.9 382.3h10.4M987.1 377.1v10.4M960.0 409.2h10.4M965.2 404.0v10.4M1067.5 285.4h10.4M1072.7 280.2v10.4M1071.9 288.7h10.4M1077.1 283.5v10.4M1049.1 320.8h10.4M1054.3 315.6v10.4M984.7 379.9h10.4M989.9 374.7v10.4M1033.1 337.3h10.4M1038.3 332.1v10.4M980.7 385.9h10.4M985.9 380.7v10.4M1074.6 294.2h10.4M1079.8 289.0v10.4M1017.2 333.8h10.4M1022.4 328.6v10.4M1011.5 345.7h10.4M1016.7 340.5v10.4M1041.7 325.6h10.4M1046.9 320.4v10.4M1021.3 331.7h10.4M1026.5 326.5v10.4M1032.0 333.7h10.4M1037.2 328.5v10.4M969.0 400.7h10.4M974.2 395.5v10.4M1033.3 318.7h10.4M1038.5 313.5v10.4M1070.6 283.6h10.4M1075.8 278.4v10.4M989.6 376.5h10.4M994.8 371.3v10.4M1025.5 337.8h10.4M1030.7 332.6v10.4M1032.2 328.7h10.4M1037.4 323.5v10.4M987.0 364.3h10.4M992.2 359.1v10.4M954.1 410.2h10.4M959.3 405.0v10.4M1046.7 317.3h10.4M1051.9 312.1v10.4M1044.7 314.2h10.4M1049.9 309.0v10.4M980.7 375.9h10.4M985.9 370.7v10.4M1062.6 288.6h10.4M1067.8 283.4v10.4M1012.9 341.4h10.4M1018.1 336.2v10.4M1048.6 310.3h10.4M1053.8 305.1v10.4M989.7 367.8h10.4M994.9 362.6v10.4M1017.9 350.9h10.4M1023.1 345.7v10.4M992.4 377.2h10.4M997.6 372.0v10.4M959.9 392.6h10.4M965.1 387.4v10.4M958.3 390.0h10.4M963.5 384.8v10.4M1050.0 319.1h10.4M1055.2 313.9v10.4M969.8 381.1h10.4M975.0 375.9v10.4M1001.0 366.2h10.4M1006.2 361.0v10.4M1054.9 314.9h10.4M1060.1 309.7v10.4M1024.7 327.5h10.4M1029.9 322.3v10.4M998.6 353.7h10.4M1003.8 348.5v10.4M1016.0 347.2h10.4M1021.2 342.0v10.4M972.1 380.5h10.4M977.3 375.3v10.4M1050.3 299.9h10.4M1055.5 294.7v10.4M1053.2 320.4h10.4M1058.4 315.2v10.4M1073.0 287.9h10.4M1078.2 282.7v10.4M1019.4 344.3h10.4M1024.6 339.1v10.4M1030.3 344.5h10.4M1035.5 339.3v10.4M1037.5 319.4h10.4M1042.7 314.2v10.4M1060.9 302.1h10.4M1066.1 296.9v10.4M1026.0 341.9h10.4M1031.2 336.7v10.4M945.1 420.2h10.4M950.3 415.0v10.4M1034.2 327.8h10.4M1039.4 322.6v10.4M1015.5 344.8h10.4M1020.7 339.6v10.4M970.9 389.1h10.4M976.1 383.9v10.4M949.8 408.5h10.4M955.0 403.3v10.4M1032.0 328.6h10.4M1037.2 323.4v10.4M1021.2 352.8h10.4M1026.4 347.6v10.4M1065.2 288.6h10.4M1070.4 283.4v10.4M1051.8 314.6h10.4M1057.0 309.4v10.4M951.6 402.9h10.4M956.8 397.7v10.4M976.3 371.8h10.4M981.5 366.6v10.4M1017.5 355.5h10.4M1022.7 350.3v10.4M988.4 381.6h10.4M993.6 376.4v10.4M1038.6 313.9h10.4M1043.8 308.7v10.4M1060.7 305.5h10.4M1065.9 300.3v10.4M1069.9 299.7h10.4M1075.1 294.5v10.4M1044.7 313.8h10.4M1049.9 308.6v10.4M1053.7 321.0h10.4M1058.9 315.8v10.4M1061.1 300.6h10.4M1066.3 295.4v10.4M1047.0 315.4h10.4M1052.2 310.2v10.4M959.5 386.8h10.4M964.7 381.6v10.4M955.3 395.1h10.4M960.5 389.9v10.4M966.5 392.5h10.4M971.7 387.3v10.4M1039.2 324.2h10.4M1044.4 319.0v10.4M1001.8 362.9h10.4M1007.0 357.7v10.4M985.9 373.1h10.4M991.1 367.9v10.4M1047.0 313.1h10.4M1052.2 307.9v10.4M969.2 400.8h10.4M974.4 395.6v10.4M1042.0 317.0h10.4M1047.2 311.8v10.4M994.9 366.3h10.4M1000.1 361.1v10.4M1025.3 329.0h10.4M1030.5 323.8v10.4M945.2 405.0h10.4M950.4 399.8v10.4M1050.5 302.8h10.4M1055.7 297.6v10.4M1006.9 345.8h10.4M1012.1 340.6v10.4M973.1 377.4h10.4M978.3 372.2v10.4M999.3 352.3h10.4M1004.5 347.1v10.4M948.5 399.2h10.4M953.7 394.0v10.4M967.5 391.3h10.4M972.7 386.1v10.4M952.9 392.7h10.4M958.1 387.5v10.4M1005.3 353.1h10.4M1010.5 347.9v10.4M1039.8 310.6h10.4M1045.0 305.4v10.4M999.2 358.5h10.4M1004.4 353.3v10.4M948.4 422.4h10.4M953.6 417.2v10.4M974.4 374.1h10.4M979.6 368.9v10.4M1008.9 343.1h10.4M1014.1 337.9v10.4M1028.8 329.0h10.4M1034.0 323.8v10.4M961.5 385.2h10.4M966.7 380.0v10.4M1043.0 313.5h10.4M1048.2 308.3v10.4M1051.2 310.9h10.4M1056.4 305.7v10.4M1070.7 287.8h10.4M1075.9 282.6v10.4M978.5 374.7h10.4M983.7 369.5v10.4M1054.8 311.8h10.4M1060.0 306.6v10.4M991.3 357.9h10.4M996.5 352.7v10.4M1036.9 338.1h10.4M1042.1 332.9v10.4M1024.8 323.6h10.4M1030.0 318.4v10.4M948.9 398.3h10.4M954.1 393.1v10.4M967.8 378.8h10.4M973.0 373.6v10.4M952.1 410.5h10.4M957.3 405.3v10.4M1066.3 289.3h10.4M1071.5 284.1v10.4M1076.3 287.2h10.4M1081.5 282.0v10.4M1053.3 321.1h10.4M1058.5 315.9v10.4M1071.7 279.6h10.4M1076.9 274.4v10.4M985.9 376.9h10.4M991.1 371.7v10.4M1072.6 280.3h10.4M1077.8 275.1v10.4M984.4 384.9h10.4M989.6 379.7v10.4M960.3 395.5h10.4M965.5 390.3v10.4M989.9 375.1h10.4M995.1 369.9v10.4M1070.2 284.9h10.4M1075.4 279.7v10.4M1044.7 324.3h10.4M1049.9 319.1v10.4M1057.6 307.1h10.4M1062.8 301.9v10.4M1069.5 290.6h10.4M1074.7 285.4v10.4M1000.8 352.5h10.4M1006.0 347.3v10.4M1050.0 312.4h10.4M1055.2 307.2v10.4M981.2 369.6h10.4M986.4 364.4v10.4M1042.1 323.3h10.4M1047.3 318.1v10.4M1040.7 318.7h10.4M1045.9 313.5v10.4M1010.6 341.2h10.4M1015.8 336.0v10.4M1040.7 308.9h10.4M1045.9 303.7v10.4M1007.8 360.1h10.4M1013.0 354.9v10.4M1036.2 315.2h10.4M1041.4 310.0v10.4M976.8 392.0h10.4M982.0 386.8v10.4M1031.5 340.8h10.4M1036.7 335.6v10.4M1062.6 299.6h10.4M1067.8 294.4v10.4M1065.9 304.1h10.4M1071.1 298.9v10.4M989.9 366.8h10.4M995.1 361.6v10.4M954.5 401.2h10.4M959.7 396.0v10.4M1073.8 279.5h10.4M1079.0 274.3v10.4M1021.6 329.5h10.4M1026.8 324.3v10.4M955.7 406.9h10.4M960.9 401.7v10.4M977.3 370.1h10.4M982.5 364.9v10.4M965.4 397.5h10.4M970.6 392.3v10.4M1023.9 324.7h10.4M1029.1 319.5v10.4M975.8 396.3h10.4M981.0 391.1v10.4M974.5 386.6h10.4M979.7 381.4v10.4M1001.4 366.8h10.4M1006.6 361.6v10.4M1026.4 343.2h10.4M1031.6 338.0v10.4M1017.1 335.9h10.4M1022.3 330.7v10.4M968.8 379.0h10.4M974.0 373.8v10.4M1056.2 296.5h10.4M1061.4 291.3v10.4M948.0 422.7h10.4M953.2 417.5v10.4M971.7 398.2h10.4M976.9 393.0v10.4M956.4 401.3h10.4M961.6 396.1v10.4M974.9 393.5h10.4M980.1 388.3v10.4M1027.9 337.8h10.4M1033.1 332.6v10.4M1047.6 325.3h10.4M1052.8 320.1v10.4M991.5 371.5h10.4M996.7 366.3v10.4M1005.0 345.4h10.4M1010.2 340.2v10.4M1057.6 308.2h10.4M1062.8 303.0v10.4M1054.8 300.4h10.4M1060.0 295.2v10.4M1017.6 342.9h10.4M1022.8 337.7v10.4M1043.1 308.1h10.4M1048.3 302.9v10.4M991.5 368.3h10.4M996.7 363.1v10.4M954.5 405.5h10.4M959.7 400.3v10.4M1044.1 316.5h10.4M1049.3 311.3v10.4M1032.3 332.6h10.4M1037.5 327.4v10.4M973.7 381.6h10.4M978.9 376.4v10.4M1079.2 280.6h10.4M1084.4 275.4v10.4M1003.0 346.6h10.4M1008.2 341.4v10.4M974.2 376.2h10.4M979.4 371.0v10.4M1070.5 299.5h10.4M1075.7 294.3v10.4M1062.9 313.8h10.4M1068.1 308.6v10.4M1027.4 346.1h10.4M1032.6 340.9v10.4M1017.1 342.1h10.4M1022.3 336.9v10.4M1072.8 302.1h10.4M1078.0 296.9v10.4M1073.0 290.6h10.4M1078.2 285.4v10.4M1049.2 311.2h10.4M1054.4 306.0v10.4M1079.4 296.2h10.4M1084.6 291.0v10.4M984.2 387.4h10.4M989.4 382.2v10.4M969.7 378.6h10.4M974.9 373.4v10.4M1042.3 314.7h10.4M1047.5 309.5v10.4M1014.9 350.1h10.4M1020.1 344.9v10.4M950.3 414.6h10.4M955.5 409.4v10.4M982.1 375.9h10.4M987.3 370.7v10.4M991.3 375.4h10.4M996.5 370.2v10.4M1045.6 311.4h10.4M1050.8 306.2v10.4M958.8 394.5h10.4M964.0 389.3v10.4M1000.3 348.9h10.4M1005.5 343.7v10.4M965.5 400.6h10.4M970.7 395.4v10.4M1039.4 335.9h10.4M1044.6 330.7v10.4M1077.1 297.3h10.4M1082.3 292.1v10.4M1069.1 266.8h10.4M1074.3 261.6v10.4M1067.1 273.5h10.4M1072.3 268.3v10.4M1074.2 268.1h10.4M1079.4 262.9v10.4M1068.7 278.3h10.4M1073.9 273.1v10.4M1066.2 274.4h10.4M1071.4 269.2v10.4" fill="none" stroke="#87CEFA" stroke-width="2.7" stroke-linecap="round"/>
<path d="M990.0 360.4a6 6 0 1 0 12 0a6 6 0 1 0 -12 0M1007.6 344.3a6 6 0 1 0 12 0a6 6 0 1 0 -12 0M971.3 382.3a6 6 0 1 0 12 0a6 6 0 1 0 -12 0M1065.0 298.6a6 6 0 1 0 12 0a6 6 0 1 0 -12 0M1048.2 306.5a6 6 0 1 0 12 0a6 6 0 1 0 -12 0M1023.0 331.2a6 6 0 1 0 12 0a6 6 0 1 0 -12 0M983.0 367.0a6 6 0 1 0 12 0a6 6 0 1 0 -12 0M987.6 374.2a6 6 0 1 0 12 0a6 6 0 1 0 -12 0" fill="none" stroke="#FF7F00" stroke-width="2.6"/>
<path d="M933.7 456.9h10.4M938.9 451.7v10.4M936.1 475.0h10.4M941.3 469.8v10.4M1024.2 379.9h10.4M1029.4 374.7v10.4M1022.4 308.1h10.4M1027.6 302.9v10.4M1094.8 235.7h10.4M1100.0 230.5v10.4M1081.5 256.2h10.4M1086.7 251.0v10.4M1086.3 259.8h10.4M1091.5 254.6v10.4M1089.9 273.1h10.4M1095.1 267.9v10.4M1077.9 292.4h10.4M1083.1 287.2v10.4M1070.6 282.7h10.4M1075.8 277.5v10.4M1068.2 297.2h10.4M1073.4 292.0v10.4M1062.2 304.4h10.4M1067.4 299.2v10.4M1055.0 311.7h10.4M1060.2 306.5v10.4M1075.5 270.7h10.4M1080.7 265.5v10.4M1094.5 235.1h10.4M1099.7 229.9v10.4M1087.2 255.6h10.4M1092.4 250.4v10.4M1002.0 384.6h10.4M1007.2 379.4v10.4M1041.8 348.4h10.4M1047.0 343.2v10.4M994.8 418.4h10.4M1000.0 413.2v10.4M989.1 419.3h10.4M994.3 414.1v10.4M936.0 474.8h10.4M941.2 469.6v10.4M937.2 456.7h10.4M942.4 451.5v10.4M946.9 437.4h10.4M952.1 432.2v10.4M963.8 403.6h10.4M969.0 398.4v10.4M955.3 402.4h10.4M960.5 397.2v10.4" fill="none" stroke="#87CEFA" stroke-width="2.7" stroke-linecap="round"/>
<path d="M953.9 379.8h17.4M962.6 371.1v17.4M958.2 416.0h17.4M966.9 407.3v17.4M937.3 441.0h17.4M946.0 432.3v17.4M992.9 336.4h17.4M1001.6 327.7v17.4M992.9 353.9h17.4M1001.6 345.2v17.4M1012.2 324.4h17.4M1020.9 315.7v17.4M1012.8 345.5h17.4M1021.5 336.8v17.4M1029.7 335.8h17.4M1038.4 327.1v17.4M1018.9 338.3h17.4M1027.6 329.6v17.4M1034.5 308.1h17.4M1043.2 299.4v17.4M1042.4 293.6h17.4M1051.1 284.9v17.4M1047.8 322.0h17.4M1056.5 313.3v17.4M977.8 385.3h17.4M986.5 376.6v17.4M1030.9 310.5h17.4M1039.6 301.8v17.4M1047.2 286.3h17.4M1055.9 277.6v17.4M1041.8 292.4h17.4M1050.5 283.7v17.4M1033.4 306.9h17.4M1042.1 298.2v17.4M1028.5 311.7h17.4M1037.2 303.0v17.4M1046.6 314.1h17.4M1055.3 305.4v17.4M1011.1 321.7h17.4M1019.8 313.0v17.4" fill="none" stroke="#FF0000" stroke-width="2.7" stroke-linecap="round"/>
</g>
<line x1="169.8" y1="491.6" x2="575.0" y2="109.7" stroke="#808080" stroke-width="3.2" stroke-linecap="round"/>
<line x1="169.8" y1="548.6" x2="575.0" y2="167.1" stroke="#808080" stroke-width="3.2" stroke-linecap="round"/>
<line x1="169.8" y1="520.5" x2="575.0" y2="139.1" stroke="#000" stroke-width="4" stroke-linecap="round"/>
<line x1="801.9" y1="512.2" x2="1225.3" y2="107.8" stroke="#808080" stroke-width="3.2" stroke-linecap="round"/>
<line x1="801.9" y1="574.7" x2="1225.3" y2="171.6" stroke="#808080" stroke-width="3.2" stroke-linecap="round"/>
<line x1="801.9" y1="543.5" x2="1225.3" y2="139.7" stroke="#000" stroke-width="4" stroke-linecap="round"/>
<path d="M305.3 554.4h20.6M315.6 544v20.8" stroke="#87CEFA" stroke-width="3" fill="none" stroke-linecap="round"/>
<path d="M306.3 591h18.4M315.5 581.9v18.4" stroke="#FF0000" stroke-width="2.8" fill="none" stroke-linecap="round"/>
<circle cx="315.5" cy="627.6" r="7.3" fill="#00C800"/>
<circle cx="315.5" cy="665" r="7.2" fill="none" stroke="#FF7F00" stroke-width="2.9"/>
<g clip-path="url(#clipA)">
<text x="343.64" y="559.30" font-size="28.8" fill="#000" text-anchor="start">Evergreen Conifer</text>
<text x="343.64" y="595.80" font-size="28.8" fill="#000" text-anchor="start">Deciduous Conifer</text>
<text x="343.64" y="631.20" font-size="28.8" fill="#000" text-anchor="start">Evergreen Broad-L.</text>
<text x="343.64" y="668.00" font-size="28.8" fill="#000" text-anchor="start">Deciduous Broad-L.</text>
</g>
<path d="M142.35 701v-2.2 M158.63 701v-2.2 M170.19 701v-2.2 M179.15 701v-7.2 M186.48 701v-2.2 M192.67 701v-2.2 M198.04 701v-2.2 M202.77 701v-2.2 M207.00 701v-7.2 M234.85 701v-2.2 M251.13 701v-2.2 M262.69 701v-2.2 M271.65 701v-7.2 M278.98 701v-2.2 M285.17 701v-2.2 M290.54 701v-2.2 M295.27 701v-2.2 M299.50 701v-7.2 M327.35 701v-2.2 M343.63 701v-2.2 M355.19 701v-2.2 M364.15 701v-7.2 M371.48 701v-2.2 M377.67 701v-2.2 M383.04 701v-2.2 M387.77 701v-2.2 M392.00 701v-7.2 M419.85 701v-2.2 M436.13 701v-2.2 M447.69 701v-2.2 M456.65 701v-7.2 M463.98 701v-2.2 M470.17 701v-2.2 M475.54 701v-2.2 M480.27 701v-2.2 M484.50 701v-7.2 M512.35 701v-2.2 M528.63 701v-2.2 M540.19 701v-2.2 M549.15 701v-7.2 M556.48 701v-2.2 M562.67 701v-2.2 M568.04 701v-2.2 M572.77 701v-2.2 M577.00 701v-7.2 M141.61 57v7.2 M156.26 57v2.2 M168.64 57v2.2 M179.37 57v2.2 M188.83 57v2.2 M197.30 57v7.2 M252.99 57v2.2 M285.57 57v2.2 M308.68 57v2.2 M326.61 57v7.2 M341.26 57v2.2 M353.64 57v2.2 M364.37 57v2.2 M373.83 57v2.2 M382.30 57v7.2 M437.99 57v2.2 M470.57 57v2.2 M493.68 57v2.2 M511.61 57v7.2 M526.26 57v2.2 M538.64 57v2.2 M549.37 57v2.2 M558.83 57v2.2 M567.30 57v7.2 M133 686.37h2.2 M133 674.81h2.2 M133 665.85h7.2 M133 658.52h2.2 M133 652.33h2.2 M133 646.96h2.2 M133 642.23h2.2 M133 638.00h7.2 M133 610.15h2.2 M133 593.87h2.2 M133 582.31h2.2 M133 573.35h7.2 M133 566.02h2.2 M133 559.83h2.2 M133 554.46h2.2 M133 549.73h2.2 M133 545.50h7.2 M133 517.65h2.2 M133 501.37h2.2 M133 489.81h2.2 M133 480.85h7.2 M133 473.52h2.2 M133 467.33h2.2 M133 461.96h2.2 M133 457.23h2.2 M133 453.00h7.2 M133 425.15h2.2 M133 408.87h2.2 M133 397.31h2.2 M133 388.35h7.2 M133 381.02h2.2 M133 374.83h2.2 M133 369.46h2.2 M133 364.73h2.2 M133 360.50h7.2 M133 332.65h2.2 M133 316.37h2.2 M133 304.81h2.2 M133 295.85h7.2 M133 288.52h2.2 M133 282.33h2.2 M133 276.96h2.2 M133 272.23h2.2 M133 268.00h7.2 M133 240.15h2.2 M133 223.87h2.2 M133 212.31h2.2 M133 203.35h7.2 M133 196.02h2.2 M133 189.83h2.2 M133 184.46h2.2 M133 179.73h2.2 M133 175.50h7.2 M133 147.65h2.2 M133 131.37h2.2 M133 119.81h2.2 M133 110.85h7.2 M133 103.52h2.2 M133 97.33h2.2 M133 91.96h2.2 M133 87.23h2.2 M133 83.00h7.2" stroke="#000" stroke-width="3.4" stroke-linecap="round" fill="none"/>
<rect x="131" y="55" width="462" height="648" fill="none" stroke="#000" stroke-width="4"/>
<path d="M799.35 701v-2.2 M815.63 701v-2.2 M827.19 701v-2.2 M836.15 701v-7.2 M843.48 701v-2.2 M849.67 701v-2.2 M855.04 701v-2.2 M859.77 701v-2.2 M864.00 701v-7.2 M891.85 701v-2.2 M908.13 701v-2.2 M919.69 701v-2.2 M928.65 701v-7.2 M935.98 701v-2.2 M942.17 701v-2.2 M947.54 701v-2.2 M952.27 701v-2.2 M956.50 701v-7.2 M984.35 701v-2.2 M1000.63 701v-2.2 M1012.19 701v-2.2 M1021.15 701v-7.2 M1028.48 701v-2.2 M1034.67 701v-2.2 M1040.04 701v-2.2 M1044.77 701v-2.2 M1049.00 701v-7.2 M1076.85 701v-2.2 M1093.13 701v-2.2 M1104.69 701v-2.2 M1113.65 701v-7.2 M1120.98 701v-2.2 M1127.17 701v-2.2 M1132.54 701v-2.2 M1137.27 701v-2.2 M1141.50 701v-7.2 M1169.35 701v-2.2 M1185.63 701v-2.2 M1197.19 701v-2.2 M1206.15 701v-7.2 M1213.48 701v-2.2 M1219.67 701v-2.2 M1225.04 701v-2.2 M1229.77 701v-2.2 M1234.00 701v-7.2 M798.61 57v7.2 M813.26 57v2.2 M825.64 57v2.2 M836.37 57v2.2 M845.83 57v2.2 M854.30 57v7.2 M909.99 57v2.2 M942.57 57v2.2 M965.68 57v2.2 M983.61 57v7.2 M998.26 57v2.2 M1010.64 57v2.2 M1021.37 57v2.2 M1030.83 57v2.2 M1039.30 57v7.2 M1094.99 57v2.2 M1127.57 57v2.2 M1150.68 57v2.2 M1168.61 57v7.2 M1183.26 57v2.2 M1195.64 57v2.2 M1206.37 57v2.2 M1215.83 57v2.2 M1224.30 57v7.2 M790 686.37h2.2 M790 674.81h2.2 M790 665.85h7.2 M790 658.52h2.2 M790 652.33h2.2 M790 646.96h2.2 M790 642.23h2.2 M790 638.00h7.2 M790 610.15h2.2 M790 593.87h2.2 M790 582.31h2.2 M790 573.35h7.2 M790 566.02h2.2 M790 559.83h2.2 M790 554.46h2.2 M790 549.73h2.2 M790 545.50h7.2 M790 517.65h2.2 M790 501.37h2.2 M790 489.81h2.2 M790 480.85h7.2 M790 473.52h2.2 M790 467.33h2.2 M790 461.96h2.2 M790 457.23h2.2 M790 453.00h7.2 M790 425.15h2.2 M790 408.87h2.2 M790 397.31h2.2 M790 388.35h7.2 M790 381.02h2.2 M790 374.83h2.2 M790 369.46h2.2 M790 364.73h2.2 M790 360.50h7.2 M790 332.65h2.2 M790 316.37h2.2 M790 304.81h2.2 M790 295.85h7.2 M790 288.52h2.2 M790 282.33h2.2 M790 276.96h2.2 M790 272.23h2.2 M790 268.00h7.2 M790 240.15h2.2 M790 223.87h2.2 M790 212.31h2.2 M790 203.35h7.2 M790 196.02h2.2 M790 189.83h2.2 M790 184.46h2.2 M790 179.73h2.2 M790 175.50h7.2 M790 147.65h2.2 M790 131.37h2.2 M790 119.81h2.2 M790 110.85h7.2 M790 103.52h2.2 M790 97.33h2.2 M790 91.96h2.2 M790 87.23h2.2 M790 83.00h7.2" stroke="#000" stroke-width="3.4" stroke-linecap="round" fill="none"/>
<rect x="788" y="55" width="462" height="648" fill="none" stroke="#000" stroke-width="4"/>
</svg>
</body></html>
